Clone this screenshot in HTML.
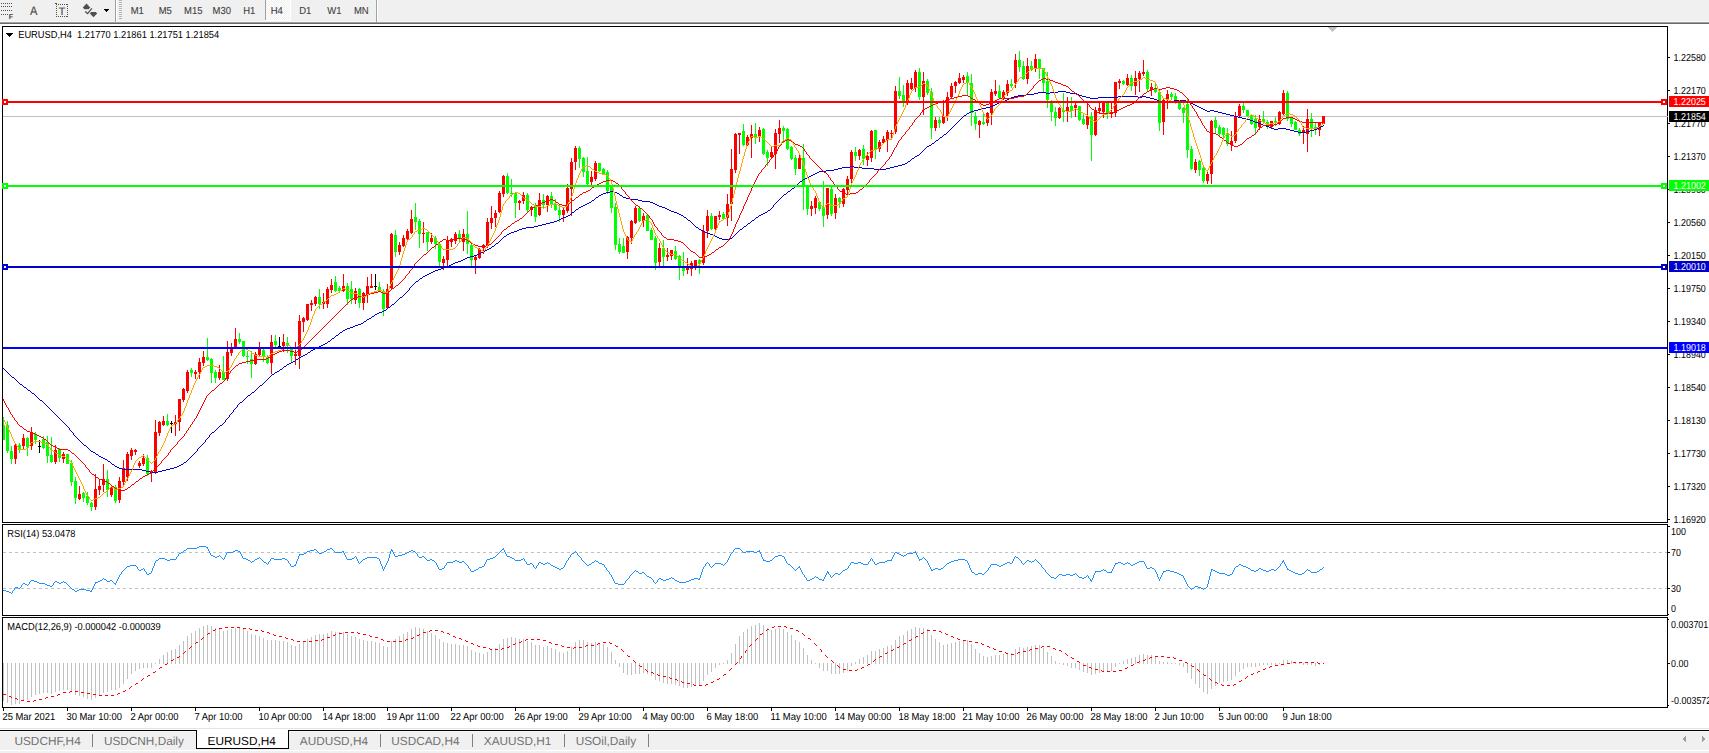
<!DOCTYPE html>
<html><head><meta charset="utf-8"><title>EURUSD,H4</title>
<style>html,body{margin:0;padding:0;background:#f0f0f0;overflow:hidden}svg{display:block}text{font-family:"Liberation Sans", sans-serif;}</style>
</head><body>
<svg width="1709" height="753" viewBox="0 0 1709 753" font-family='"Liberation Sans", sans-serif' shape-rendering="crispEdges" text-rendering="geometricPrecision">
<rect x="0" y="0" width="1709" height="753" fill="#f0f0f0"/>
<rect x="0" y="21" width="1709" height="1" fill="#f6f6f6"/>
<rect x="0" y="22" width="1709" height="1" fill="#a0a0a0"/>
<rect x="0" y="23" width="1709" height="1" fill="#696969"/>
<rect x="0" y="24" width="1709" height="705" fill="#ffffff"/>
<g id="main">
<rect x="3" y="116" width="1664" height="1" fill="#c0c0c0"/>
<rect x="3" y="417" width="1" height="23" fill="#00ff00"/>
<rect x="2" y="425" width="3" height="15" fill="#00ff00"/>
<rect x="7" y="421" width="1" height="32" fill="#00ff00"/>
<rect x="6" y="425" width="3" height="26" fill="#00ff00"/>
<rect x="11" y="446" width="1" height="18" fill="#00ff00"/>
<rect x="10" y="451" width="3" height="8" fill="#00ff00"/>
<rect x="15" y="444" width="1" height="20" fill="#ff0000"/>
<rect x="14" y="445" width="3" height="14" fill="#ff0000"/>
<rect x="19" y="443" width="1" height="10" fill="#00ff00"/>
<rect x="18" y="445" width="3" height="5" fill="#00ff00"/>
<rect x="23" y="434" width="1" height="16" fill="#ff0000"/>
<rect x="22" y="438" width="3" height="8" fill="#ff0000"/>
<rect x="27" y="437" width="1" height="19" fill="#00ff00"/>
<rect x="26" y="438" width="3" height="9" fill="#00ff00"/>
<rect x="31" y="427" width="1" height="23" fill="#ff0000"/>
<rect x="30" y="432" width="3" height="14" fill="#ff0000"/>
<rect x="35" y="432" width="1" height="12" fill="#00ff00"/>
<rect x="34" y="434" width="3" height="6" fill="#00ff00"/>
<rect x="39" y="440" width="1" height="13" fill="#000000"/>
<rect x="38" y="446" width="3" height="1" fill="#000000"/>
<rect x="43" y="436" width="1" height="13" fill="#00ff00"/>
<rect x="42" y="439" width="3" height="9" fill="#00ff00"/>
<rect x="47" y="436" width="1" height="27" fill="#00ff00"/>
<rect x="46" y="442" width="3" height="14" fill="#00ff00"/>
<rect x="51" y="437" width="1" height="26" fill="#00ff00"/>
<rect x="50" y="455" width="3" height="7" fill="#00ff00"/>
<rect x="55" y="445" width="1" height="19" fill="#ff0000"/>
<rect x="54" y="450" width="3" height="12" fill="#ff0000"/>
<rect x="59" y="448" width="1" height="14" fill="#00ff00"/>
<rect x="58" y="449" width="3" height="9" fill="#00ff00"/>
<rect x="63" y="452" width="1" height="11" fill="#ff0000"/>
<rect x="62" y="454" width="3" height="5" fill="#ff0000"/>
<rect x="67" y="454" width="1" height="10" fill="#00ff00"/>
<rect x="66" y="454" width="3" height="10" fill="#00ff00"/>
<rect x="71" y="460" width="1" height="26" fill="#00ff00"/>
<rect x="70" y="463" width="3" height="19" fill="#00ff00"/>
<rect x="75" y="477" width="1" height="27" fill="#00ff00"/>
<rect x="74" y="481" width="3" height="17" fill="#00ff00"/>
<rect x="79" y="486" width="1" height="14" fill="#ff0000"/>
<rect x="78" y="494" width="3" height="5" fill="#ff0000"/>
<rect x="83" y="492" width="1" height="10" fill="#00ff00"/>
<rect x="82" y="493" width="3" height="5" fill="#00ff00"/>
<rect x="87" y="492" width="1" height="13" fill="#00ff00"/>
<rect x="86" y="496" width="3" height="7" fill="#00ff00"/>
<rect x="91" y="502" width="1" height="9" fill="#00ff00"/>
<rect x="90" y="503" width="3" height="4" fill="#00ff00"/>
<rect x="95" y="474" width="1" height="36" fill="#ff0000"/>
<rect x="94" y="489" width="3" height="18" fill="#ff0000"/>
<rect x="99" y="479" width="1" height="16" fill="#ff0000"/>
<rect x="98" y="486" width="3" height="4" fill="#ff0000"/>
<rect x="103" y="464" width="1" height="28" fill="#ff0000"/>
<rect x="102" y="479" width="3" height="6" fill="#ff0000"/>
<rect x="107" y="470" width="1" height="27" fill="#00ff00"/>
<rect x="106" y="479" width="3" height="11" fill="#00ff00"/>
<rect x="111" y="487" width="1" height="10" fill="#ff0000"/>
<rect x="110" y="488" width="3" height="7" fill="#ff0000"/>
<rect x="115" y="485" width="1" height="18" fill="#00ff00"/>
<rect x="114" y="487" width="3" height="14" fill="#00ff00"/>
<rect x="119" y="477" width="1" height="26" fill="#ff0000"/>
<rect x="118" y="481" width="3" height="19" fill="#ff0000"/>
<rect x="123" y="460" width="1" height="27" fill="#ff0000"/>
<rect x="122" y="468" width="3" height="14" fill="#ff0000"/>
<rect x="127" y="452" width="1" height="29" fill="#ff0000"/>
<rect x="126" y="454" width="3" height="23" fill="#ff0000"/>
<rect x="131" y="448" width="1" height="12" fill="#ff0000"/>
<rect x="130" y="450" width="3" height="6" fill="#ff0000"/>
<rect x="135" y="449" width="1" height="6" fill="#ff0000"/>
<rect x="134" y="450" width="3" height="2" fill="#ff0000"/>
<rect x="139" y="461" width="1" height="7" fill="#ff0000"/>
<rect x="138" y="463" width="3" height="3" fill="#ff0000"/>
<rect x="143" y="454" width="1" height="12" fill="#ff0000"/>
<rect x="142" y="458" width="3" height="6" fill="#ff0000"/>
<rect x="147" y="455" width="1" height="21" fill="#00ff00"/>
<rect x="146" y="458" width="3" height="16" fill="#00ff00"/>
<rect x="151" y="470" width="1" height="12" fill="#ff0000"/>
<rect x="150" y="471" width="3" height="2" fill="#ff0000"/>
<rect x="155" y="420" width="1" height="54" fill="#ff0000"/>
<rect x="154" y="432" width="3" height="40" fill="#ff0000"/>
<rect x="159" y="421" width="1" height="15" fill="#ff0000"/>
<rect x="158" y="422" width="3" height="11" fill="#ff0000"/>
<rect x="163" y="416" width="1" height="10" fill="#ff0000"/>
<rect x="162" y="421" width="3" height="4" fill="#ff0000"/>
<rect x="167" y="414" width="1" height="12" fill="#00ff00"/>
<rect x="166" y="421" width="3" height="4" fill="#00ff00"/>
<rect x="171" y="421" width="1" height="12" fill="#000000"/>
<rect x="170" y="423" width="3" height="1" fill="#000000"/>
<rect x="175" y="415" width="1" height="21" fill="#ff0000"/>
<rect x="174" y="422" width="3" height="2" fill="#ff0000"/>
<rect x="179" y="399" width="1" height="32" fill="#ff0000"/>
<rect x="178" y="399" width="3" height="23" fill="#ff0000"/>
<rect x="183" y="388" width="1" height="14" fill="#ff0000"/>
<rect x="182" y="389" width="3" height="11" fill="#ff0000"/>
<rect x="187" y="370" width="1" height="23" fill="#ff0000"/>
<rect x="186" y="372" width="3" height="19" fill="#ff0000"/>
<rect x="191" y="368" width="1" height="9" fill="#00ff00"/>
<rect x="190" y="370" width="3" height="3" fill="#00ff00"/>
<rect x="195" y="370" width="1" height="9" fill="#ff0000"/>
<rect x="194" y="372" width="3" height="2" fill="#ff0000"/>
<rect x="199" y="358" width="1" height="21" fill="#ff0000"/>
<rect x="198" y="362" width="3" height="10" fill="#ff0000"/>
<rect x="203" y="351" width="1" height="15" fill="#ff0000"/>
<rect x="202" y="357" width="3" height="6" fill="#ff0000"/>
<rect x="207" y="338" width="1" height="23" fill="#00ff00"/>
<rect x="206" y="357" width="3" height="3" fill="#00ff00"/>
<rect x="211" y="358" width="1" height="25" fill="#00ff00"/>
<rect x="210" y="359" width="3" height="14" fill="#00ff00"/>
<rect x="215" y="370" width="1" height="13" fill="#00ff00"/>
<rect x="214" y="372" width="3" height="6" fill="#00ff00"/>
<rect x="219" y="365" width="1" height="15" fill="#ff0000"/>
<rect x="218" y="372" width="3" height="6" fill="#ff0000"/>
<rect x="223" y="356" width="1" height="24" fill="#00ff00"/>
<rect x="222" y="372" width="3" height="8" fill="#00ff00"/>
<rect x="227" y="341" width="1" height="40" fill="#ff0000"/>
<rect x="226" y="352" width="3" height="27" fill="#ff0000"/>
<rect x="231" y="343" width="1" height="13" fill="#ff0000"/>
<rect x="230" y="349" width="3" height="4" fill="#ff0000"/>
<rect x="235" y="328" width="1" height="20" fill="#ff0000"/>
<rect x="234" y="339" width="3" height="8" fill="#ff0000"/>
<rect x="239" y="333" width="1" height="11" fill="#00ff00"/>
<rect x="238" y="339" width="3" height="3" fill="#00ff00"/>
<rect x="243" y="341" width="1" height="16" fill="#00ff00"/>
<rect x="242" y="341" width="3" height="15" fill="#00ff00"/>
<rect x="247" y="351" width="1" height="13" fill="#00ff00"/>
<rect x="246" y="356" width="3" height="1" fill="#00ff00"/>
<rect x="251" y="351" width="1" height="27" fill="#00ff00"/>
<rect x="250" y="359" width="3" height="5" fill="#00ff00"/>
<rect x="255" y="352" width="1" height="13" fill="#ff0000"/>
<rect x="254" y="354" width="3" height="10" fill="#ff0000"/>
<rect x="259" y="342" width="1" height="14" fill="#ff0000"/>
<rect x="258" y="349" width="3" height="6" fill="#ff0000"/>
<rect x="263" y="349" width="1" height="13" fill="#00ff00"/>
<rect x="262" y="350" width="3" height="7" fill="#00ff00"/>
<rect x="267" y="355" width="1" height="9" fill="#00ff00"/>
<rect x="266" y="357" width="3" height="6" fill="#00ff00"/>
<rect x="271" y="335" width="1" height="39" fill="#ff0000"/>
<rect x="270" y="342" width="3" height="21" fill="#ff0000"/>
<rect x="275" y="335" width="1" height="12" fill="#00ff00"/>
<rect x="274" y="341" width="3" height="4" fill="#00ff00"/>
<rect x="279" y="337" width="1" height="9" fill="#000000"/>
<rect x="278" y="346" width="3" height="1" fill="#000000"/>
<rect x="283" y="334" width="1" height="18" fill="#ff0000"/>
<rect x="282" y="342" width="3" height="4" fill="#ff0000"/>
<rect x="287" y="337" width="1" height="16" fill="#00ff00"/>
<rect x="286" y="343" width="3" height="3" fill="#00ff00"/>
<rect x="291" y="349" width="1" height="13" fill="#00ff00"/>
<rect x="290" y="349" width="3" height="7" fill="#00ff00"/>
<rect x="295" y="342" width="1" height="23" fill="#ff0000"/>
<rect x="294" y="354" width="3" height="2" fill="#ff0000"/>
<rect x="299" y="315" width="1" height="54" fill="#ff0000"/>
<rect x="298" y="321" width="3" height="35" fill="#ff0000"/>
<rect x="303" y="317" width="1" height="15" fill="#ff0000"/>
<rect x="302" y="318" width="3" height="4" fill="#ff0000"/>
<rect x="307" y="304" width="1" height="17" fill="#ff0000"/>
<rect x="306" y="304" width="3" height="16" fill="#ff0000"/>
<rect x="311" y="300" width="1" height="11" fill="#ff0000"/>
<rect x="310" y="303" width="3" height="2" fill="#ff0000"/>
<rect x="315" y="296" width="1" height="10" fill="#ff0000"/>
<rect x="314" y="297" width="3" height="7" fill="#ff0000"/>
<rect x="319" y="289" width="1" height="20" fill="#00ff00"/>
<rect x="318" y="297" width="3" height="7" fill="#00ff00"/>
<rect x="323" y="293" width="1" height="16" fill="#ff0000"/>
<rect x="322" y="302" width="3" height="2" fill="#ff0000"/>
<rect x="327" y="287" width="1" height="21" fill="#ff0000"/>
<rect x="326" y="289" width="3" height="15" fill="#ff0000"/>
<rect x="331" y="279" width="1" height="14" fill="#ff0000"/>
<rect x="330" y="285" width="3" height="5" fill="#ff0000"/>
<rect x="335" y="276" width="1" height="16" fill="#00ff00"/>
<rect x="334" y="282" width="3" height="9" fill="#00ff00"/>
<rect x="339" y="286" width="1" height="7" fill="#00ff00"/>
<rect x="338" y="288" width="3" height="3" fill="#00ff00"/>
<rect x="343" y="274" width="1" height="18" fill="#ff0000"/>
<rect x="342" y="286" width="3" height="5" fill="#ff0000"/>
<rect x="347" y="283" width="1" height="22" fill="#00ff00"/>
<rect x="346" y="286" width="3" height="13" fill="#00ff00"/>
<rect x="351" y="281" width="1" height="23" fill="#00ff00"/>
<rect x="350" y="289" width="3" height="10" fill="#00ff00"/>
<rect x="355" y="288" width="1" height="16" fill="#ff0000"/>
<rect x="354" y="291" width="3" height="9" fill="#ff0000"/>
<rect x="359" y="288" width="1" height="20" fill="#00ff00"/>
<rect x="358" y="289" width="3" height="14" fill="#00ff00"/>
<rect x="363" y="292" width="1" height="18" fill="#ff0000"/>
<rect x="362" y="293" width="3" height="10" fill="#ff0000"/>
<rect x="367" y="277" width="1" height="26" fill="#ff0000"/>
<rect x="366" y="286" width="3" height="9" fill="#ff0000"/>
<rect x="371" y="274" width="1" height="14" fill="#ff0000"/>
<rect x="370" y="286" width="3" height="2" fill="#ff0000"/>
<rect x="375" y="274" width="1" height="16" fill="#000000"/>
<rect x="374" y="286" width="3" height="1" fill="#000000"/>
<rect x="379" y="282" width="1" height="10" fill="#00ff00"/>
<rect x="378" y="287" width="3" height="3" fill="#00ff00"/>
<rect x="383" y="289" width="1" height="27" fill="#00ff00"/>
<rect x="382" y="291" width="3" height="18" fill="#00ff00"/>
<rect x="387" y="284" width="1" height="25" fill="#ff0000"/>
<rect x="386" y="289" width="3" height="19" fill="#ff0000"/>
<rect x="391" y="233" width="1" height="56" fill="#ff0000"/>
<rect x="390" y="234" width="3" height="54" fill="#ff0000"/>
<rect x="395" y="230" width="1" height="27" fill="#00ff00"/>
<rect x="394" y="235" width="3" height="17" fill="#00ff00"/>
<rect x="399" y="242" width="1" height="13" fill="#ff0000"/>
<rect x="398" y="245" width="3" height="7" fill="#ff0000"/>
<rect x="403" y="235" width="1" height="12" fill="#ff0000"/>
<rect x="402" y="238" width="3" height="8" fill="#ff0000"/>
<rect x="407" y="229" width="1" height="11" fill="#ff0000"/>
<rect x="406" y="231" width="3" height="8" fill="#ff0000"/>
<rect x="411" y="210" width="1" height="24" fill="#ff0000"/>
<rect x="410" y="219" width="3" height="14" fill="#ff0000"/>
<rect x="415" y="203" width="1" height="27" fill="#00ff00"/>
<rect x="414" y="217" width="3" height="5" fill="#00ff00"/>
<rect x="419" y="219" width="1" height="29" fill="#00ff00"/>
<rect x="418" y="221" width="3" height="13" fill="#00ff00"/>
<rect x="423" y="222" width="1" height="21" fill="#ff0000"/>
<rect x="422" y="233" width="3" height="1" fill="#ff0000"/>
<rect x="427" y="232" width="1" height="19" fill="#00ff00"/>
<rect x="426" y="232" width="3" height="10" fill="#00ff00"/>
<rect x="431" y="233" width="1" height="11" fill="#ff0000"/>
<rect x="430" y="238" width="3" height="4" fill="#ff0000"/>
<rect x="435" y="236" width="1" height="13" fill="#00ff00"/>
<rect x="434" y="238" width="3" height="6" fill="#00ff00"/>
<rect x="439" y="242" width="1" height="25" fill="#00ff00"/>
<rect x="438" y="244" width="3" height="18" fill="#00ff00"/>
<rect x="443" y="256" width="1" height="14" fill="#ff0000"/>
<rect x="442" y="259" width="3" height="4" fill="#ff0000"/>
<rect x="447" y="236" width="1" height="30" fill="#ff0000"/>
<rect x="446" y="241" width="3" height="19" fill="#ff0000"/>
<rect x="451" y="238" width="1" height="9" fill="#ff0000"/>
<rect x="450" y="239" width="3" height="3" fill="#ff0000"/>
<rect x="455" y="232" width="1" height="12" fill="#ff0000"/>
<rect x="454" y="234" width="3" height="7" fill="#ff0000"/>
<rect x="459" y="230" width="1" height="12" fill="#00ff00"/>
<rect x="458" y="234" width="3" height="5" fill="#00ff00"/>
<rect x="463" y="229" width="1" height="22" fill="#ff0000"/>
<rect x="462" y="234" width="3" height="8" fill="#ff0000"/>
<rect x="467" y="211" width="1" height="43" fill="#00ff00"/>
<rect x="466" y="234" width="3" height="10" fill="#00ff00"/>
<rect x="471" y="244" width="1" height="22" fill="#00ff00"/>
<rect x="470" y="245" width="3" height="15" fill="#00ff00"/>
<rect x="475" y="255" width="1" height="19" fill="#ff0000"/>
<rect x="474" y="257" width="3" height="3" fill="#ff0000"/>
<rect x="479" y="248" width="1" height="11" fill="#ff0000"/>
<rect x="478" y="249" width="3" height="9" fill="#ff0000"/>
<rect x="483" y="244" width="1" height="10" fill="#ff0000"/>
<rect x="482" y="245" width="3" height="3" fill="#ff0000"/>
<rect x="487" y="218" width="1" height="30" fill="#ff0000"/>
<rect x="486" y="222" width="3" height="24" fill="#ff0000"/>
<rect x="491" y="206" width="1" height="23" fill="#ff0000"/>
<rect x="490" y="218" width="3" height="5" fill="#ff0000"/>
<rect x="495" y="210" width="1" height="17" fill="#ff0000"/>
<rect x="494" y="213" width="3" height="5" fill="#ff0000"/>
<rect x="499" y="191" width="1" height="22" fill="#ff0000"/>
<rect x="498" y="193" width="3" height="19" fill="#ff0000"/>
<rect x="503" y="175" width="1" height="22" fill="#ff0000"/>
<rect x="502" y="176" width="3" height="18" fill="#ff0000"/>
<rect x="507" y="173" width="1" height="21" fill="#00ff00"/>
<rect x="506" y="176" width="3" height="17" fill="#00ff00"/>
<rect x="511" y="179" width="1" height="18" fill="#00ff00"/>
<rect x="510" y="193" width="3" height="1" fill="#00ff00"/>
<rect x="515" y="192" width="1" height="26" fill="#00ff00"/>
<rect x="514" y="193" width="3" height="10" fill="#00ff00"/>
<rect x="519" y="200" width="1" height="10" fill="#ff0000"/>
<rect x="518" y="201" width="3" height="2" fill="#ff0000"/>
<rect x="523" y="192" width="1" height="12" fill="#ff0000"/>
<rect x="522" y="195" width="3" height="6" fill="#ff0000"/>
<rect x="527" y="193" width="1" height="19" fill="#00ff00"/>
<rect x="526" y="195" width="3" height="15" fill="#00ff00"/>
<rect x="531" y="206" width="1" height="10" fill="#ff0000"/>
<rect x="530" y="207" width="3" height="3" fill="#ff0000"/>
<rect x="535" y="203" width="1" height="19" fill="#00ff00"/>
<rect x="534" y="206" width="3" height="11" fill="#00ff00"/>
<rect x="539" y="193" width="1" height="23" fill="#ff0000"/>
<rect x="538" y="200" width="3" height="15" fill="#ff0000"/>
<rect x="543" y="194" width="1" height="14" fill="#00ff00"/>
<rect x="542" y="200" width="3" height="5" fill="#00ff00"/>
<rect x="547" y="195" width="1" height="17" fill="#ff0000"/>
<rect x="546" y="196" width="3" height="9" fill="#ff0000"/>
<rect x="551" y="192" width="1" height="16" fill="#00ff00"/>
<rect x="550" y="196" width="3" height="8" fill="#00ff00"/>
<rect x="555" y="199" width="1" height="12" fill="#00ff00"/>
<rect x="554" y="204" width="3" height="6" fill="#00ff00"/>
<rect x="559" y="205" width="1" height="17" fill="#00ff00"/>
<rect x="558" y="210" width="3" height="5" fill="#00ff00"/>
<rect x="563" y="208" width="1" height="14" fill="#ff0000"/>
<rect x="562" y="210" width="3" height="5" fill="#ff0000"/>
<rect x="567" y="184" width="1" height="29" fill="#ff0000"/>
<rect x="566" y="188" width="3" height="23" fill="#ff0000"/>
<rect x="571" y="158" width="1" height="58" fill="#ff0000"/>
<rect x="570" y="162" width="3" height="27" fill="#ff0000"/>
<rect x="575" y="146" width="1" height="24" fill="#ff0000"/>
<rect x="574" y="148" width="3" height="14" fill="#ff0000"/>
<rect x="579" y="146" width="1" height="22" fill="#00ff00"/>
<rect x="578" y="148" width="3" height="11" fill="#00ff00"/>
<rect x="583" y="157" width="1" height="20" fill="#00ff00"/>
<rect x="582" y="158" width="3" height="14" fill="#00ff00"/>
<rect x="587" y="157" width="1" height="29" fill="#00ff00"/>
<rect x="586" y="171" width="3" height="13" fill="#00ff00"/>
<rect x="591" y="171" width="1" height="14" fill="#ff0000"/>
<rect x="590" y="177" width="3" height="5" fill="#ff0000"/>
<rect x="595" y="161" width="1" height="20" fill="#ff0000"/>
<rect x="594" y="163" width="3" height="16" fill="#ff0000"/>
<rect x="599" y="163" width="1" height="9" fill="#00ff00"/>
<rect x="598" y="163" width="3" height="8" fill="#00ff00"/>
<rect x="603" y="168" width="1" height="6" fill="#00ff00"/>
<rect x="602" y="169" width="3" height="5" fill="#00ff00"/>
<rect x="607" y="170" width="1" height="24" fill="#00ff00"/>
<rect x="606" y="172" width="3" height="19" fill="#00ff00"/>
<rect x="611" y="186" width="1" height="27" fill="#00ff00"/>
<rect x="610" y="187" width="3" height="21" fill="#00ff00"/>
<rect x="615" y="203" width="1" height="47" fill="#00ff00"/>
<rect x="614" y="207" width="3" height="38" fill="#00ff00"/>
<rect x="619" y="238" width="1" height="16" fill="#00ff00"/>
<rect x="618" y="244" width="3" height="8" fill="#00ff00"/>
<rect x="623" y="238" width="1" height="15" fill="#00ff00"/>
<rect x="622" y="246" width="3" height="7" fill="#00ff00"/>
<rect x="627" y="236" width="1" height="23" fill="#ff0000"/>
<rect x="626" y="237" width="3" height="15" fill="#ff0000"/>
<rect x="631" y="220" width="1" height="24" fill="#ff0000"/>
<rect x="630" y="221" width="3" height="17" fill="#ff0000"/>
<rect x="635" y="206" width="1" height="18" fill="#ff0000"/>
<rect x="634" y="208" width="3" height="15" fill="#ff0000"/>
<rect x="639" y="206" width="1" height="16" fill="#00ff00"/>
<rect x="638" y="208" width="3" height="13" fill="#00ff00"/>
<rect x="643" y="213" width="1" height="14" fill="#ff0000"/>
<rect x="642" y="216" width="3" height="5" fill="#ff0000"/>
<rect x="647" y="214" width="1" height="17" fill="#00ff00"/>
<rect x="646" y="215" width="3" height="16" fill="#00ff00"/>
<rect x="651" y="228" width="1" height="12" fill="#00ff00"/>
<rect x="650" y="230" width="3" height="10" fill="#00ff00"/>
<rect x="655" y="236" width="1" height="34" fill="#00ff00"/>
<rect x="654" y="238" width="3" height="25" fill="#00ff00"/>
<rect x="659" y="243" width="1" height="23" fill="#ff0000"/>
<rect x="658" y="248" width="3" height="14" fill="#ff0000"/>
<rect x="663" y="240" width="1" height="26" fill="#00ff00"/>
<rect x="662" y="248" width="3" height="9" fill="#00ff00"/>
<rect x="667" y="248" width="1" height="13" fill="#ff0000"/>
<rect x="666" y="255" width="3" height="2" fill="#ff0000"/>
<rect x="671" y="250" width="1" height="10" fill="#ff0000"/>
<rect x="670" y="250" width="3" height="6" fill="#ff0000"/>
<rect x="675" y="246" width="1" height="14" fill="#00ff00"/>
<rect x="674" y="251" width="3" height="8" fill="#00ff00"/>
<rect x="679" y="255" width="1" height="25" fill="#00ff00"/>
<rect x="678" y="256" width="3" height="12" fill="#00ff00"/>
<rect x="683" y="252" width="1" height="24" fill="#00ff00"/>
<rect x="682" y="266" width="3" height="5" fill="#00ff00"/>
<rect x="687" y="258" width="1" height="16" fill="#ff0000"/>
<rect x="686" y="267" width="3" height="3" fill="#ff0000"/>
<rect x="691" y="261" width="1" height="15" fill="#ff0000"/>
<rect x="690" y="263" width="3" height="6" fill="#ff0000"/>
<rect x="695" y="260" width="1" height="10" fill="#ff0000"/>
<rect x="694" y="260" width="3" height="6" fill="#ff0000"/>
<rect x="699" y="259" width="1" height="15" fill="#00ff00"/>
<rect x="698" y="260" width="3" height="4" fill="#00ff00"/>
<rect x="703" y="225" width="1" height="40" fill="#ff0000"/>
<rect x="702" y="231" width="3" height="32" fill="#ff0000"/>
<rect x="707" y="210" width="1" height="28" fill="#ff0000"/>
<rect x="706" y="216" width="3" height="15" fill="#ff0000"/>
<rect x="711" y="213" width="1" height="17" fill="#00ff00"/>
<rect x="710" y="216" width="3" height="13" fill="#00ff00"/>
<rect x="715" y="216" width="1" height="14" fill="#ff0000"/>
<rect x="714" y="216" width="3" height="13" fill="#ff0000"/>
<rect x="719" y="211" width="1" height="9" fill="#ff0000"/>
<rect x="718" y="215" width="3" height="2" fill="#ff0000"/>
<rect x="723" y="212" width="1" height="7" fill="#00ff00"/>
<rect x="722" y="214" width="3" height="5" fill="#00ff00"/>
<rect x="727" y="194" width="1" height="32" fill="#ff0000"/>
<rect x="726" y="204" width="3" height="14" fill="#ff0000"/>
<rect x="731" y="149" width="1" height="72" fill="#ff0000"/>
<rect x="730" y="169" width="3" height="35" fill="#ff0000"/>
<rect x="735" y="133" width="1" height="40" fill="#ff0000"/>
<rect x="734" y="134" width="3" height="36" fill="#ff0000"/>
<rect x="739" y="133" width="1" height="21" fill="#ff0000"/>
<rect x="738" y="133" width="3" height="2" fill="#ff0000"/>
<rect x="743" y="124" width="1" height="22" fill="#00ff00"/>
<rect x="742" y="131" width="3" height="14" fill="#00ff00"/>
<rect x="747" y="135" width="1" height="11" fill="#ff0000"/>
<rect x="746" y="137" width="3" height="8" fill="#ff0000"/>
<rect x="751" y="125" width="1" height="33" fill="#ff0000"/>
<rect x="750" y="134" width="3" height="4" fill="#ff0000"/>
<rect x="755" y="123" width="1" height="21" fill="#00ff00"/>
<rect x="754" y="134" width="3" height="3" fill="#00ff00"/>
<rect x="759" y="127" width="1" height="15" fill="#ff0000"/>
<rect x="758" y="130" width="3" height="7" fill="#ff0000"/>
<rect x="763" y="128" width="1" height="27" fill="#00ff00"/>
<rect x="762" y="129" width="3" height="25" fill="#00ff00"/>
<rect x="767" y="150" width="1" height="16" fill="#00ff00"/>
<rect x="766" y="152" width="3" height="6" fill="#00ff00"/>
<rect x="771" y="146" width="1" height="12" fill="#ff0000"/>
<rect x="770" y="152" width="3" height="5" fill="#ff0000"/>
<rect x="775" y="129" width="1" height="40" fill="#ff0000"/>
<rect x="774" y="133" width="3" height="21" fill="#ff0000"/>
<rect x="779" y="120" width="1" height="23" fill="#ff0000"/>
<rect x="778" y="128" width="3" height="6" fill="#ff0000"/>
<rect x="783" y="126" width="1" height="17" fill="#00ff00"/>
<rect x="782" y="128" width="3" height="3" fill="#00ff00"/>
<rect x="787" y="128" width="1" height="22" fill="#00ff00"/>
<rect x="786" y="129" width="3" height="20" fill="#00ff00"/>
<rect x="791" y="146" width="1" height="14" fill="#00ff00"/>
<rect x="790" y="147" width="3" height="12" fill="#00ff00"/>
<rect x="795" y="155" width="1" height="20" fill="#00ff00"/>
<rect x="794" y="158" width="3" height="11" fill="#00ff00"/>
<rect x="799" y="154" width="1" height="15" fill="#ff0000"/>
<rect x="798" y="158" width="3" height="11" fill="#ff0000"/>
<rect x="803" y="144" width="1" height="66" fill="#00ff00"/>
<rect x="802" y="158" width="3" height="28" fill="#00ff00"/>
<rect x="807" y="187" width="1" height="28" fill="#00ff00"/>
<rect x="806" y="187" width="3" height="22" fill="#00ff00"/>
<rect x="811" y="201" width="1" height="15" fill="#ff0000"/>
<rect x="810" y="206" width="3" height="3" fill="#ff0000"/>
<rect x="815" y="196" width="1" height="18" fill="#ff0000"/>
<rect x="814" y="198" width="3" height="10" fill="#ff0000"/>
<rect x="819" y="201" width="1" height="10" fill="#00ff00"/>
<rect x="818" y="202" width="3" height="7" fill="#00ff00"/>
<rect x="823" y="181" width="1" height="46" fill="#00ff00"/>
<rect x="822" y="208" width="3" height="8" fill="#00ff00"/>
<rect x="827" y="188" width="1" height="31" fill="#ff0000"/>
<rect x="826" y="188" width="3" height="27" fill="#ff0000"/>
<rect x="831" y="187" width="1" height="29" fill="#00ff00"/>
<rect x="830" y="189" width="3" height="25" fill="#00ff00"/>
<rect x="835" y="194" width="1" height="25" fill="#ff0000"/>
<rect x="834" y="198" width="3" height="15" fill="#ff0000"/>
<rect x="839" y="197" width="1" height="11" fill="#00ff00"/>
<rect x="838" y="198" width="3" height="4" fill="#00ff00"/>
<rect x="843" y="188" width="1" height="19" fill="#ff0000"/>
<rect x="842" y="189" width="3" height="15" fill="#ff0000"/>
<rect x="847" y="176" width="1" height="20" fill="#ff0000"/>
<rect x="846" y="179" width="3" height="11" fill="#ff0000"/>
<rect x="851" y="150" width="1" height="34" fill="#ff0000"/>
<rect x="850" y="152" width="3" height="27" fill="#ff0000"/>
<rect x="855" y="147" width="1" height="14" fill="#00ff00"/>
<rect x="854" y="152" width="3" height="4" fill="#00ff00"/>
<rect x="859" y="149" width="1" height="11" fill="#ff0000"/>
<rect x="858" y="150" width="3" height="6" fill="#ff0000"/>
<rect x="863" y="145" width="1" height="20" fill="#00ff00"/>
<rect x="862" y="149" width="3" height="10" fill="#00ff00"/>
<rect x="867" y="152" width="1" height="14" fill="#ff0000"/>
<rect x="866" y="156" width="3" height="4" fill="#ff0000"/>
<rect x="871" y="130" width="1" height="32" fill="#ff0000"/>
<rect x="870" y="131" width="3" height="27" fill="#ff0000"/>
<rect x="875" y="130" width="1" height="29" fill="#00ff00"/>
<rect x="874" y="130" width="3" height="20" fill="#00ff00"/>
<rect x="879" y="140" width="1" height="12" fill="#ff0000"/>
<rect x="878" y="142" width="3" height="7" fill="#ff0000"/>
<rect x="883" y="136" width="1" height="8" fill="#ff0000"/>
<rect x="882" y="139" width="3" height="4" fill="#ff0000"/>
<rect x="887" y="130" width="1" height="22" fill="#ff0000"/>
<rect x="886" y="132" width="3" height="8" fill="#ff0000"/>
<rect x="891" y="130" width="1" height="8" fill="#ff0000"/>
<rect x="890" y="133" width="3" height="1" fill="#ff0000"/>
<rect x="895" y="86" width="1" height="48" fill="#ff0000"/>
<rect x="894" y="91" width="3" height="41" fill="#ff0000"/>
<rect x="899" y="77" width="1" height="22" fill="#00ff00"/>
<rect x="898" y="91" width="3" height="5" fill="#00ff00"/>
<rect x="903" y="85" width="1" height="22" fill="#00ff00"/>
<rect x="902" y="95" width="3" height="6" fill="#00ff00"/>
<rect x="907" y="80" width="1" height="25" fill="#ff0000"/>
<rect x="906" y="83" width="3" height="19" fill="#ff0000"/>
<rect x="911" y="78" width="1" height="12" fill="#ff0000"/>
<rect x="910" y="83" width="3" height="6" fill="#ff0000"/>
<rect x="915" y="70" width="1" height="22" fill="#ff0000"/>
<rect x="914" y="72" width="3" height="16" fill="#ff0000"/>
<rect x="919" y="68" width="1" height="32" fill="#00ff00"/>
<rect x="918" y="72" width="3" height="25" fill="#00ff00"/>
<rect x="923" y="72" width="1" height="43" fill="#ff0000"/>
<rect x="922" y="81" width="3" height="16" fill="#ff0000"/>
<rect x="927" y="79" width="1" height="16" fill="#00ff00"/>
<rect x="926" y="81" width="3" height="12" fill="#00ff00"/>
<rect x="931" y="88" width="1" height="51" fill="#00ff00"/>
<rect x="930" y="92" width="3" height="36" fill="#00ff00"/>
<rect x="935" y="117" width="1" height="14" fill="#ff0000"/>
<rect x="934" y="120" width="3" height="8" fill="#ff0000"/>
<rect x="939" y="117" width="1" height="11" fill="#00ff00"/>
<rect x="938" y="120" width="3" height="3" fill="#00ff00"/>
<rect x="943" y="100" width="1" height="24" fill="#ff0000"/>
<rect x="942" y="116" width="3" height="7" fill="#ff0000"/>
<rect x="947" y="92" width="1" height="29" fill="#ff0000"/>
<rect x="946" y="97" width="3" height="19" fill="#ff0000"/>
<rect x="951" y="83" width="1" height="15" fill="#ff0000"/>
<rect x="950" y="86" width="3" height="11" fill="#ff0000"/>
<rect x="955" y="81" width="1" height="12" fill="#ff0000"/>
<rect x="954" y="82" width="3" height="4" fill="#ff0000"/>
<rect x="959" y="73" width="1" height="11" fill="#ff0000"/>
<rect x="958" y="78" width="3" height="5" fill="#ff0000"/>
<rect x="963" y="75" width="1" height="8" fill="#ff0000"/>
<rect x="962" y="77" width="3" height="3" fill="#ff0000"/>
<rect x="967" y="72" width="1" height="23" fill="#00ff00"/>
<rect x="966" y="76" width="3" height="6" fill="#00ff00"/>
<rect x="971" y="74" width="1" height="52" fill="#00ff00"/>
<rect x="970" y="83" width="3" height="30" fill="#00ff00"/>
<rect x="975" y="112" width="1" height="18" fill="#00ff00"/>
<rect x="974" y="116" width="3" height="8" fill="#00ff00"/>
<rect x="979" y="120" width="1" height="18" fill="#ff0000"/>
<rect x="978" y="121" width="3" height="4" fill="#ff0000"/>
<rect x="983" y="114" width="1" height="11" fill="#00ff00"/>
<rect x="982" y="122" width="3" height="2" fill="#00ff00"/>
<rect x="987" y="112" width="1" height="14" fill="#ff0000"/>
<rect x="986" y="113" width="3" height="10" fill="#ff0000"/>
<rect x="991" y="89" width="1" height="36" fill="#ff0000"/>
<rect x="990" y="92" width="3" height="21" fill="#ff0000"/>
<rect x="995" y="80" width="1" height="16" fill="#ff0000"/>
<rect x="994" y="91" width="3" height="3" fill="#ff0000"/>
<rect x="999" y="85" width="1" height="14" fill="#00ff00"/>
<rect x="998" y="91" width="3" height="7" fill="#00ff00"/>
<rect x="1003" y="90" width="1" height="10" fill="#ff0000"/>
<rect x="1002" y="92" width="3" height="6" fill="#ff0000"/>
<rect x="1007" y="80" width="1" height="16" fill="#ff0000"/>
<rect x="1006" y="84" width="3" height="9" fill="#ff0000"/>
<rect x="1011" y="79" width="1" height="9" fill="#00ff00"/>
<rect x="1010" y="84" width="3" height="2" fill="#00ff00"/>
<rect x="1015" y="54" width="1" height="34" fill="#ff0000"/>
<rect x="1014" y="60" width="3" height="23" fill="#ff0000"/>
<rect x="1019" y="51" width="1" height="21" fill="#00ff00"/>
<rect x="1018" y="60" width="3" height="7" fill="#00ff00"/>
<rect x="1023" y="61" width="1" height="19" fill="#00ff00"/>
<rect x="1022" y="66" width="3" height="13" fill="#00ff00"/>
<rect x="1027" y="58" width="1" height="26" fill="#ff0000"/>
<rect x="1026" y="66" width="3" height="13" fill="#ff0000"/>
<rect x="1031" y="61" width="1" height="10" fill="#00ff00"/>
<rect x="1030" y="66" width="3" height="4" fill="#00ff00"/>
<rect x="1035" y="54" width="1" height="18" fill="#ff0000"/>
<rect x="1034" y="59" width="3" height="9" fill="#ff0000"/>
<rect x="1039" y="59" width="1" height="20" fill="#00ff00"/>
<rect x="1038" y="59" width="3" height="9" fill="#00ff00"/>
<rect x="1043" y="68" width="1" height="24" fill="#00ff00"/>
<rect x="1042" y="68" width="3" height="15" fill="#00ff00"/>
<rect x="1047" y="72" width="1" height="36" fill="#00ff00"/>
<rect x="1046" y="81" width="3" height="19" fill="#00ff00"/>
<rect x="1051" y="100" width="1" height="21" fill="#00ff00"/>
<rect x="1050" y="103" width="3" height="9" fill="#00ff00"/>
<rect x="1055" y="107" width="1" height="19" fill="#00ff00"/>
<rect x="1054" y="112" width="3" height="6" fill="#00ff00"/>
<rect x="1059" y="107" width="1" height="12" fill="#ff0000"/>
<rect x="1058" y="108" width="3" height="10" fill="#ff0000"/>
<rect x="1063" y="93" width="1" height="29" fill="#00ff00"/>
<rect x="1062" y="110" width="3" height="2" fill="#00ff00"/>
<rect x="1067" y="97" width="1" height="25" fill="#ff0000"/>
<rect x="1066" y="107" width="3" height="4" fill="#ff0000"/>
<rect x="1071" y="97" width="1" height="21" fill="#00ff00"/>
<rect x="1070" y="106" width="3" height="5" fill="#00ff00"/>
<rect x="1075" y="103" width="1" height="14" fill="#ff0000"/>
<rect x="1074" y="105" width="3" height="3" fill="#ff0000"/>
<rect x="1079" y="106" width="1" height="15" fill="#00ff00"/>
<rect x="1078" y="106" width="3" height="14" fill="#00ff00"/>
<rect x="1083" y="113" width="1" height="12" fill="#00ff00"/>
<rect x="1082" y="119" width="3" height="5" fill="#00ff00"/>
<rect x="1087" y="104" width="1" height="25" fill="#ff0000"/>
<rect x="1086" y="116" width="3" height="9" fill="#ff0000"/>
<rect x="1091" y="112" width="1" height="49" fill="#00ff00"/>
<rect x="1090" y="116" width="3" height="19" fill="#00ff00"/>
<rect x="1095" y="107" width="1" height="29" fill="#ff0000"/>
<rect x="1094" y="110" width="3" height="25" fill="#ff0000"/>
<rect x="1099" y="103" width="1" height="10" fill="#ff0000"/>
<rect x="1098" y="108" width="3" height="3" fill="#ff0000"/>
<rect x="1103" y="103" width="1" height="15" fill="#ff0000"/>
<rect x="1102" y="103" width="3" height="9" fill="#ff0000"/>
<rect x="1107" y="103" width="1" height="16" fill="#00ff00"/>
<rect x="1106" y="103" width="3" height="10" fill="#00ff00"/>
<rect x="1111" y="103" width="1" height="15" fill="#ff0000"/>
<rect x="1110" y="112" width="3" height="1" fill="#ff0000"/>
<rect x="1115" y="82" width="1" height="35" fill="#ff0000"/>
<rect x="1114" y="82" width="3" height="31" fill="#ff0000"/>
<rect x="1119" y="79" width="1" height="10" fill="#ff0000"/>
<rect x="1118" y="81" width="3" height="2" fill="#ff0000"/>
<rect x="1123" y="80" width="1" height="5" fill="#00ff00"/>
<rect x="1122" y="81" width="3" height="3" fill="#00ff00"/>
<rect x="1127" y="74" width="1" height="12" fill="#ff0000"/>
<rect x="1126" y="78" width="3" height="7" fill="#ff0000"/>
<rect x="1131" y="75" width="1" height="16" fill="#00ff00"/>
<rect x="1130" y="78" width="3" height="8" fill="#00ff00"/>
<rect x="1135" y="71" width="1" height="24" fill="#ff0000"/>
<rect x="1134" y="78" width="3" height="8" fill="#ff0000"/>
<rect x="1139" y="71" width="1" height="21" fill="#ff0000"/>
<rect x="1138" y="73" width="3" height="6" fill="#ff0000"/>
<rect x="1143" y="60" width="1" height="16" fill="#ff0000"/>
<rect x="1142" y="72" width="3" height="2" fill="#ff0000"/>
<rect x="1147" y="70" width="1" height="21" fill="#00ff00"/>
<rect x="1146" y="72" width="3" height="17" fill="#00ff00"/>
<rect x="1151" y="83" width="1" height="13" fill="#ff0000"/>
<rect x="1150" y="87" width="3" height="3" fill="#ff0000"/>
<rect x="1155" y="84" width="1" height="9" fill="#00ff00"/>
<rect x="1154" y="88" width="3" height="4" fill="#00ff00"/>
<rect x="1159" y="89" width="1" height="42" fill="#00ff00"/>
<rect x="1158" y="92" width="3" height="31" fill="#00ff00"/>
<rect x="1163" y="99" width="1" height="36" fill="#ff0000"/>
<rect x="1162" y="100" width="3" height="22" fill="#ff0000"/>
<rect x="1167" y="90" width="1" height="19" fill="#ff0000"/>
<rect x="1166" y="94" width="3" height="6" fill="#ff0000"/>
<rect x="1171" y="92" width="1" height="8" fill="#00ff00"/>
<rect x="1170" y="94" width="3" height="3" fill="#00ff00"/>
<rect x="1175" y="93" width="1" height="11" fill="#00ff00"/>
<rect x="1174" y="96" width="3" height="4" fill="#00ff00"/>
<rect x="1179" y="100" width="1" height="10" fill="#00ff00"/>
<rect x="1178" y="103" width="3" height="6" fill="#00ff00"/>
<rect x="1183" y="107" width="1" height="16" fill="#00ff00"/>
<rect x="1182" y="108" width="3" height="5" fill="#00ff00"/>
<rect x="1187" y="99" width="1" height="59" fill="#00ff00"/>
<rect x="1186" y="104" width="3" height="46" fill="#00ff00"/>
<rect x="1191" y="146" width="1" height="24" fill="#00ff00"/>
<rect x="1190" y="149" width="3" height="20" fill="#00ff00"/>
<rect x="1195" y="159" width="1" height="14" fill="#ff0000"/>
<rect x="1194" y="162" width="3" height="8" fill="#ff0000"/>
<rect x="1199" y="160" width="1" height="16" fill="#00ff00"/>
<rect x="1198" y="161" width="3" height="9" fill="#00ff00"/>
<rect x="1203" y="166" width="1" height="17" fill="#00ff00"/>
<rect x="1202" y="168" width="3" height="13" fill="#00ff00"/>
<rect x="1207" y="170" width="1" height="14" fill="#ff0000"/>
<rect x="1206" y="174" width="3" height="7" fill="#ff0000"/>
<rect x="1211" y="120" width="1" height="64" fill="#ff0000"/>
<rect x="1210" y="121" width="3" height="53" fill="#ff0000"/>
<rect x="1215" y="117" width="1" height="17" fill="#00ff00"/>
<rect x="1214" y="120" width="3" height="8" fill="#00ff00"/>
<rect x="1219" y="125" width="1" height="12" fill="#00ff00"/>
<rect x="1218" y="127" width="3" height="7" fill="#00ff00"/>
<rect x="1223" y="127" width="1" height="11" fill="#00ff00"/>
<rect x="1222" y="128" width="3" height="7" fill="#00ff00"/>
<rect x="1227" y="128" width="1" height="18" fill="#00ff00"/>
<rect x="1226" y="134" width="3" height="10" fill="#00ff00"/>
<rect x="1231" y="131" width="1" height="20" fill="#ff0000"/>
<rect x="1230" y="141" width="3" height="4" fill="#ff0000"/>
<rect x="1235" y="112" width="1" height="31" fill="#ff0000"/>
<rect x="1234" y="116" width="3" height="25" fill="#ff0000"/>
<rect x="1239" y="104" width="1" height="13" fill="#ff0000"/>
<rect x="1238" y="106" width="3" height="10" fill="#ff0000"/>
<rect x="1243" y="103" width="1" height="10" fill="#00ff00"/>
<rect x="1242" y="106" width="3" height="4" fill="#00ff00"/>
<rect x="1247" y="110" width="1" height="7" fill="#00ff00"/>
<rect x="1246" y="110" width="3" height="6" fill="#00ff00"/>
<rect x="1251" y="114" width="1" height="11" fill="#00ff00"/>
<rect x="1250" y="115" width="3" height="9" fill="#00ff00"/>
<rect x="1255" y="115" width="1" height="20" fill="#00ff00"/>
<rect x="1254" y="119" width="3" height="9" fill="#00ff00"/>
<rect x="1259" y="115" width="1" height="15" fill="#ff0000"/>
<rect x="1258" y="119" width="3" height="8" fill="#ff0000"/>
<rect x="1263" y="111" width="1" height="13" fill="#00ff00"/>
<rect x="1262" y="119" width="3" height="3" fill="#00ff00"/>
<rect x="1267" y="120" width="1" height="9" fill="#00ff00"/>
<rect x="1266" y="122" width="3" height="4" fill="#00ff00"/>
<rect x="1271" y="121" width="1" height="7" fill="#ff0000"/>
<rect x="1270" y="121" width="3" height="6" fill="#ff0000"/>
<rect x="1275" y="117" width="1" height="9" fill="#00ff00"/>
<rect x="1274" y="121" width="3" height="1" fill="#00ff00"/>
<rect x="1279" y="111" width="1" height="14" fill="#ff0000"/>
<rect x="1278" y="112" width="3" height="12" fill="#ff0000"/>
<rect x="1283" y="90" width="1" height="25" fill="#ff0000"/>
<rect x="1282" y="93" width="3" height="21" fill="#ff0000"/>
<rect x="1287" y="91" width="1" height="30" fill="#00ff00"/>
<rect x="1286" y="93" width="3" height="26" fill="#00ff00"/>
<rect x="1291" y="117" width="1" height="10" fill="#00ff00"/>
<rect x="1290" y="118" width="3" height="6" fill="#00ff00"/>
<rect x="1295" y="121" width="1" height="9" fill="#00ff00"/>
<rect x="1294" y="122" width="3" height="8" fill="#00ff00"/>
<rect x="1299" y="128" width="1" height="8" fill="#00ff00"/>
<rect x="1298" y="130" width="3" height="4" fill="#00ff00"/>
<rect x="1303" y="126" width="1" height="18" fill="#ff0000"/>
<rect x="1302" y="130" width="3" height="3" fill="#ff0000"/>
<rect x="1307" y="109" width="1" height="43" fill="#ff0000"/>
<rect x="1306" y="119" width="3" height="15" fill="#ff0000"/>
<rect x="1311" y="113" width="1" height="24" fill="#00ff00"/>
<rect x="1310" y="119" width="3" height="9" fill="#00ff00"/>
<rect x="1315" y="122" width="1" height="13" fill="#00ff00"/>
<rect x="1314" y="127" width="3" height="3" fill="#00ff00"/>
<rect x="1319" y="122" width="1" height="14" fill="#ff0000"/>
<rect x="1318" y="122" width="3" height="8" fill="#ff0000"/>
<rect x="1323" y="116" width="1" height="8" fill="#ff0000"/>
<rect x="1322" y="116" width="3" height="8" fill="#ff0000"/>
</g>
<path d="M1058 91.5h8M1038 92.5h8M1050 92.5h8M1066 92.5h4M1034 93.5h4M1046 93.5h4M1070 93.5h7M1026 94.5h8M1077 94.5h2M1018 95.5h8M1079 95.5h3M1014 96.5h4M1082 96.5h4M1118 96.5h20M1142 96.5h4M1011 97.5h3M1086 97.5h4M1098 97.5h20M1138 97.5h4M1146 97.5h4M1009 98.5h2M1090 98.5h8M1150 98.5h4M1007 99.5h2M1154 99.5h3M1005 100.5h2M1157 100.5h2M1174 100.5h12M1002 101.5h3M1159 101.5h15M1186 101.5h3M999 102.5h3M1189 102.5h2M997 103.5h2M1191 103.5h2M995 104.5h2M1193 104.5h2M993 105.5h2M1195 105.5h2M990 106.5h3M1197 106.5h2M986 107.5h4M1199 107.5h2M982 108.5h4M1201 108.5h2M978 109.5h4M1203 109.5h2M974 110.5h4M1205 110.5h2M1210 110.5h4M971 111.5h3M1207 111.5h3M1214 111.5h4M969 112.5h2M1218 112.5h4M967 113.5h2M1222 113.5h4M966 114.5h1M1226 114.5h4M964 115.5h2M1230 115.5h4M963 116.5h1M1234 116.5h4M962 117.5h1M1238 117.5h4M961 118.5h1M1242 118.5h4M960 119.5h1M1246 119.5h4M959 120.5h1M1250 120.5h3M958 121.5h1M1253 121.5h2M957 122.5h1M1255 122.5h3M956 123.5h1M1258 123.5h3M955 124.5h1M1261 124.5h2M954 125.5h1M1263 125.5h3M1323 125.5h1M953 126.5h1M1266 126.5h3M1321 126.5h2M952 127.5h1M1269 127.5h2M1319 127.5h2M951 128.5h1M1271 128.5h3M1278 128.5h8M1317 128.5h2M950 129.5h1M1274 129.5h4M1286 129.5h4M1314 129.5h3M949 130.5h1M1290 130.5h4M1310 130.5h4M948 131.5h1M1294 131.5h4M1306 131.5h4M947 132.5h1M1298 132.5h8M946 133.5h1M944 134.5h2M943 135.5h1M942 136.5h1M940 137.5h2M939 138.5h1M938 139.5h1M936 140.5h2M935 141.5h1M934 142.5h1M932 143.5h2M931 144.5h1M929 145.5h2M927 146.5h2M926 147.5h1M925 148.5h1M924 149.5h1M923 150.5h1M922 151.5h1M921 152.5h1M920 153.5h1M919 154.5h1M917 155.5h2M915 156.5h2M914 157.5h1M912 158.5h2M911 159.5h1M910 160.5h1M908 161.5h2M907 162.5h1M905 163.5h2M902 164.5h3M898 165.5h4M850 166.5h4M894 166.5h4M842 167.5h8M854 167.5h8M890 167.5h4M838 168.5h4M862 168.5h12M886 168.5h4M834 169.5h4M874 169.5h12M826 170.5h8M819 171.5h7M817 172.5h2M815 173.5h2M813 174.5h2M811 175.5h2M809 176.5h2M807 177.5h2M805 178.5h2M803 179.5h2M802 180.5h1M800 181.5h2M799 182.5h1M798 183.5h1M797 184.5h1M796 185.5h1M795 186.5h1M794 187.5h1M792 188.5h2M791 189.5h1M790 190.5h1M610 191.5h4M788 191.5h2M606 192.5h4M614 192.5h3M787 192.5h1M603 193.5h3M617 193.5h2M786 193.5h1M601 194.5h2M619 194.5h1M784 194.5h2M599 195.5h2M620 195.5h2M783 195.5h1M598 196.5h1M622 196.5h1M782 196.5h1M596 197.5h2M623 197.5h3M781 197.5h1M595 198.5h1M626 198.5h4M780 198.5h1M594 199.5h1M630 199.5h8M779 199.5h1M592 200.5h2M638 200.5h4M778 200.5h1M591 201.5h1M642 201.5h8M777 201.5h1M589 202.5h2M650 202.5h3M776 202.5h1M587 203.5h2M653 203.5h2M775 203.5h1M585 204.5h2M655 204.5h2M774 204.5h1M583 205.5h2M657 205.5h2M773.5 205v2M581 206.5h2M659 206.5h3M579 207.5h2M662 207.5h3M772 207.5h1M578 208.5h1M665 208.5h2M771 208.5h1M576 209.5h2M667 209.5h2M770 209.5h1M575 210.5h1M669 210.5h2M768 210.5h2M574 211.5h1M671 211.5h3M767 211.5h1M572 212.5h2M674 212.5h3M765 212.5h2M571 213.5h1M677 213.5h2M763 213.5h2M570 214.5h1M679 214.5h2M761 214.5h2M568 215.5h2M681 215.5h2M759 215.5h2M566 216.5h2M683 216.5h1M758 216.5h1M563 217.5h3M684 217.5h2M756 217.5h2M561 218.5h2M686 218.5h1M755 218.5h1M559 219.5h2M687 219.5h1M754 219.5h1M557 220.5h2M688 220.5h2M752 220.5h2M554 221.5h3M690 221.5h1M751 221.5h1M550 222.5h4M691 222.5h1M750 222.5h1M546 223.5h4M692 223.5h1M748 223.5h2M542 224.5h4M693 224.5h1M747 224.5h1M538 225.5h4M694 225.5h1M746 225.5h1M534 226.5h4M695 226.5h1M744 226.5h2M526 227.5h8M696 227.5h2M743 227.5h1M522 228.5h4M698 228.5h1M742 228.5h1M519 229.5h3M699 229.5h2M740 229.5h2M517 230.5h2M701 230.5h2M739 230.5h1M514 231.5h3M703 231.5h2M738 231.5h1M511 232.5h3M705 232.5h2M737 232.5h1M509 233.5h2M707 233.5h3M736 233.5h1M507 234.5h2M710 234.5h3M735 234.5h1M506 235.5h1M713 235.5h2M734 235.5h1M504 236.5h2M715 236.5h2M733 236.5h1M503 237.5h1M717 237.5h2M732 237.5h1M502 238.5h1M719 238.5h3M730 238.5h2M501 239.5h1M722 239.5h8M500 240.5h1M499 241.5h1M498 242.5h1M496 243.5h2M495 244.5h1M494 245.5h1M492 246.5h2M491 247.5h1M489 248.5h2M487 249.5h2M485 250.5h2M483 251.5h2M481 252.5h2M479 253.5h2M477 254.5h2M474 255.5h3M470 256.5h4M467 257.5h3M465 258.5h2M463 259.5h2M461 260.5h2M458 261.5h3M455 262.5h3M453 263.5h2M451 264.5h2M449 265.5h2M446 266.5h3M443 267.5h3M441 268.5h2M438 269.5h3M435 270.5h3M433 271.5h2M431 272.5h2M429 273.5h2M427 274.5h2M425 275.5h2M423 276.5h2M422 277.5h1M420 278.5h2M419 279.5h1M418 280.5h1M416 281.5h2M415 282.5h1M414 283.5h1M413 284.5h1M412 285.5h1M411 286.5h1M410 287.5h1M409.5 288v2M408 290.5h1M407 291.5h1M406 292.5h1M405 293.5h1M404 294.5h1M403 295.5h1M402 296.5h1M400 297.5h2M399 298.5h1M398 299.5h1M397 300.5h1M396 301.5h1M395 302.5h1M394 303.5h1M392 304.5h2M391 305.5h1M390 306.5h1M388 307.5h2M387 308.5h1M386 309.5h1M384 310.5h2M382 311.5h2M379 312.5h3M377 313.5h2M375 314.5h2M374 315.5h1M372 316.5h2M371 317.5h1M369 318.5h2M367 319.5h2M366 320.5h1M364 321.5h2M363 322.5h1M361 323.5h2M358 324.5h3M355 325.5h3M353 326.5h2M350 327.5h3M347 328.5h3M345 329.5h2M343 330.5h2M342 331.5h1M340 332.5h2M339 333.5h1M338 334.5h1M336 335.5h2M335 336.5h1M334 337.5h1M332 338.5h2M331 339.5h1M330 340.5h1M328 341.5h2M327 342.5h1M325 343.5h2M323 344.5h2M321 345.5h2M319 346.5h2M317 347.5h2M315 348.5h2M313 349.5h2M311 350.5h2M310 351.5h1M308 352.5h2M307 353.5h1M305 354.5h2M303 355.5h2M301 356.5h2M299 357.5h2M298 358.5h1M296 359.5h2M295 360.5h1M293 361.5h2M291 362.5h2M289 363.5h2M287 364.5h2M286 365.5h1M284 366.5h2M283 367.5h1M3 368.5h1M282 368.5h1M4 369.5h1M280 369.5h2M5 370.5h1M279 370.5h1M6 371.5h1M277 371.5h2M7 372.5h1M275 372.5h2M8 373.5h1M274 373.5h1M9 374.5h1M272 374.5h2M10 375.5h1M271 375.5h1M11 376.5h1M270 376.5h1M12 377.5h2M269 377.5h1M14 378.5h1M268 378.5h1M15 379.5h1M267 379.5h1M16 380.5h1M266 380.5h1M17 381.5h1M265 381.5h1M18 382.5h1M264 382.5h1M19 383.5h1M263 383.5h1M20 384.5h2M262 384.5h1M22 385.5h1M260 385.5h2M23 386.5h1M259 386.5h1M24 387.5h2M258 387.5h1M26 388.5h1M257 388.5h1M27 389.5h1M256 389.5h1M28 390.5h2M255 390.5h1M30 391.5h1M254 391.5h1M31 392.5h1M252 392.5h2M32 393.5h2M251 393.5h1M34 394.5h1M250 394.5h1M35 395.5h1M248 395.5h2M36 396.5h1M247 396.5h1M37 397.5h1M246 397.5h1M38 398.5h1M245 398.5h1M39 399.5h1M244 399.5h1M40 400.5h2M243 400.5h1M42 401.5h1M242 401.5h1M43 402.5h1M240 402.5h2M44 403.5h1M239 403.5h1M45 404.5h1M238 404.5h1M46 405.5h1M237.5 405v2M47 406.5h1M48 407.5h1M236 407.5h1M49 408.5h1M235 408.5h1M50 409.5h1M234 409.5h1M51 410.5h1M233.5 410v2M52 411.5h1M53 412.5h1M232 412.5h1M54 413.5h1M231 413.5h1M55 414.5h1M230 414.5h1M56 415.5h1M229.5 415v2M57 416.5h1M58 417.5h1M228 417.5h1M59 418.5h1M227 418.5h1M60 419.5h1M226 419.5h1M61 420.5h1M225.5 420v2M62 421.5h1M63 422.5h1M224 422.5h1M64 423.5h1M223 423.5h1M65 424.5h1M222 424.5h1M66 425.5h1M220 425.5h2M67 426.5h1M219 426.5h1M68 427.5h1M218 427.5h1M69.5 428v2M217 428.5h1M216 429.5h1M70 430.5h1M215 430.5h1M71 431.5h1M214 431.5h1M72 432.5h1M212 432.5h2M73.5 433v2M211 433.5h1M210 434.5h1M74 435.5h1M209.5 435v2M75 436.5h1M76 437.5h1M208 437.5h1M77 438.5h1M207 438.5h1M78 439.5h1M206 439.5h1M79 440.5h1M205.5 440v2M80 441.5h1M81 442.5h1M204 442.5h1M82 443.5h1M203 443.5h1M83 444.5h1M202 444.5h1M84 445.5h2M201 445.5h1M86 446.5h1M200 446.5h1M87 447.5h1M199 447.5h1M88 448.5h1M198 448.5h1M89 449.5h1M197.5 449v2M90 450.5h1M91 451.5h2M196 451.5h1M93 452.5h2M195 452.5h1M95 453.5h1M194 453.5h1M96 454.5h2M193 454.5h1M98 455.5h1M192 455.5h1M99 456.5h2M191 456.5h1M101 457.5h2M190 457.5h1M103 458.5h2M189 458.5h1M105 459.5h2M188 459.5h1M107 460.5h1M187 460.5h1M108 461.5h2M186 461.5h1M110 462.5h1M184 462.5h2M111 463.5h1M183 463.5h1M112 464.5h2M181 464.5h2M114 465.5h1M179 465.5h2M115 466.5h2M177 466.5h2M117 467.5h2M174 467.5h3M119 468.5h3M170 468.5h4M122 469.5h20M166 469.5h4M142 470.5h4M162 470.5h4M146 471.5h4M158 471.5h4M150 472.5h8" fill="none" stroke="#0000cd" stroke-width="1"/>
<path d="M1043 78.5h3M1041 79.5h2M1046 79.5h4M1039 80.5h2M1050 80.5h3M1038 81.5h1M1053 81.5h2M1037 82.5h1M1055 82.5h3M1036 83.5h1M1058 83.5h3M1035 84.5h1M1061 84.5h2M1034 85.5h1M1063 85.5h3M1033.5 86v2M1066 86.5h2M1068 87.5h1M1166 87.5h4M1032 88.5h1M1069 88.5h1M1154 88.5h4M1162 88.5h4M1170 88.5h4M1031 89.5h1M1070 89.5h1M1151 89.5h3M1158 89.5h4M1174 89.5h3M1030 90.5h1M1071 90.5h1M1149 90.5h2M1177 90.5h2M1029 91.5h1M1072 91.5h2M1147 91.5h2M1179 91.5h1M1028 92.5h1M1074 92.5h1M1146 92.5h1M1180 92.5h2M1027 93.5h1M1075 93.5h1M1144 93.5h2M1182 93.5h1M1026 94.5h1M1076 94.5h2M1143 94.5h1M1183 94.5h1M962 95.5h6M1024 95.5h2M1078 95.5h1M1142 95.5h1M1184 95.5h1M958 96.5h4M968 96.5h2M1018 96.5h6M1079 96.5h1M1140 96.5h2M1185 96.5h1M954 97.5h4M970 97.5h1M1014 97.5h4M1080 97.5h1M1139 97.5h1M1186 97.5h1M950 98.5h4M971 98.5h2M999 98.5h15M1081 98.5h1M1138 98.5h1M1187 98.5h1M947 99.5h3M973 99.5h2M997 99.5h2M1082 99.5h1M1137 99.5h1M1188.5 99v2M945 100.5h2M975 100.5h1M995 100.5h2M1083 100.5h1M1136 100.5h1M942 101.5h3M976 101.5h2M993 101.5h2M1084 101.5h2M1135 101.5h1M1189.5 101v2M938 102.5h4M978 102.5h1M991 102.5h2M1086 102.5h1M1134 102.5h1M935 103.5h3M979 103.5h2M989 103.5h2M1087 103.5h1M1132 103.5h2M1190.5 103v2M933 104.5h2M981 104.5h2M986 104.5h3M1088 104.5h1M1130 104.5h2M931 105.5h2M983 105.5h3M1089.5 105v2M1127 105.5h3M1191 105.5h1M929 106.5h2M1125 106.5h2M1192.5 106v2M927 107.5h2M1090 107.5h1M1123 107.5h2M925 108.5h2M1091 108.5h1M1121 108.5h2M1193 108.5h1M923 109.5h2M1092 109.5h2M1119 109.5h2M1194.5 109v2M922.5 110v2M1094 110.5h1M1117 110.5h2M1095 111.5h2M1115 111.5h2M1195 111.5h1M921 112.5h1M1097 112.5h2M1113 112.5h2M1196.5 112v2M920.5 113v2M1099 113.5h14M1197.5 114v2M919 115.5h1M918 116.5h1M1198.5 116v2M917 117.5h1M1286 117.5h7M916 118.5h1M1199 118.5h1M1283 118.5h3M1293 118.5h2M915 119.5h1M1200.5 119v2M1282 119.5h1M1295 119.5h2M914.5 120v2M1281 120.5h1M1297 120.5h2M1201.5 121v2M1280 121.5h1M1299 121.5h3M913 122.5h1M1279 122.5h1M1302 122.5h22M912.5 123v2M1202.5 123v2M1277 123.5h2M1274 124.5h3M911 125.5h1M1203 125.5h1M1263 125.5h11M910 126.5h1M1204.5 126v2M1262 126.5h1M909.5 127v2M1260 127.5h2M1205 128.5h1M1259 128.5h1M908 129.5h1M1206.5 129v2M1258 129.5h1M907 130.5h1M1257.5 130v2M906 131.5h1M1207 131.5h2M905.5 132v2M1209 132.5h2M1256 132.5h1M1211 133.5h5M1255 133.5h1M904 134.5h1M1216 134.5h2M1254 134.5h1M903 135.5h1M1218 135.5h1M1252 135.5h2M902 136.5h1M1219 136.5h1M1251 136.5h1M901.5 137v2M1220 137.5h2M1249 137.5h2M1222 138.5h1M1247 138.5h2M787 139.5h2M900 139.5h1M1223 139.5h1M1246 139.5h1M785 140.5h2M789 140.5h2M899 140.5h1M1224 140.5h2M1245 140.5h1M783 141.5h2M791 141.5h1M898.5 141v2M1226 141.5h1M1244 141.5h1M782 142.5h1M792 142.5h2M1227 142.5h1M1243 142.5h1M781.5 143v2M794 143.5h1M897.5 143v2M1228 143.5h2M1242 143.5h1M795 144.5h3M1230 144.5h1M1240 144.5h2M780 145.5h1M798 145.5h2M896.5 145v2M1231 145.5h3M1238 145.5h2M779 146.5h1M800 146.5h2M1234 146.5h4M778.5 147v2M802 147.5h1M895 147.5h1M803 148.5h1M894.5 148v2M777.5 149v2M804.5 149v2M893.5 150v2M776.5 151v2M805 151.5h1M806.5 152v2M892.5 152v2M775 153.5h1M774 154.5h1M807 154.5h1M891.5 154v2M773.5 155v2M808 155.5h1M809.5 156v2M890 156.5h1M772 157.5h1M889.5 157v2M771 158.5h1M810 158.5h1M770 159.5h1M811 159.5h1M888 159.5h1M769.5 160v2M812 160.5h1M887 160.5h1M813 161.5h1M886 161.5h1M768 162.5h1M814 162.5h1M885.5 162v2M767 163.5h1M815 163.5h1M766 164.5h1M816 164.5h1M884 164.5h1M765.5 165v2M817 165.5h1M883 165.5h1M818 166.5h1M882 166.5h1M764 167.5h1M819 167.5h1M881 167.5h1M763 168.5h1M820 168.5h1M880 168.5h1M762 169.5h1M821 169.5h1M879 169.5h1M761.5 170v2M822 170.5h1M878 170.5h1M823 171.5h1M877.5 171v2M760 172.5h1M824 172.5h2M759 173.5h1M826 173.5h1M876 173.5h1M758.5 174v2M827 174.5h1M875 174.5h1M828.5 175v2M874 175.5h1M757.5 176v2M873 176.5h1M829 177.5h1M872 177.5h1M756.5 178v2M830.5 178v2M871 178.5h1M870 179.5h1M606 180.5h7M755.5 180v2M831 180.5h1M869.5 180v2M603 181.5h3M613 181.5h2M832 181.5h1M601 182.5h2M615 182.5h1M754.5 182v2M833.5 182v2M868 182.5h1M599 183.5h2M616 183.5h2M867 183.5h1M597 184.5h2M618 184.5h1M753.5 184v2M834 184.5h1M866 184.5h1M595 185.5h2M619 185.5h1M835 185.5h1M865 185.5h1M594 186.5h1M620 186.5h1M752.5 186v2M836 186.5h1M864 186.5h1M592 187.5h2M621.5 187v2M837.5 187v2M863 187.5h1M591 188.5h1M751.5 188v3M862 188.5h1M590 189.5h1M622 189.5h1M838 189.5h1M860 189.5h2M588 190.5h2M623 190.5h1M839 190.5h1M859 190.5h1M586 191.5h2M624 191.5h1M750.5 191v2M840 191.5h2M858 191.5h1M583 192.5h3M625.5 192v2M842 192.5h1M856 192.5h2M582 193.5h1M749.5 193v2M843 193.5h3M850 193.5h6M580 194.5h2M626 194.5h1M846 194.5h4M579 195.5h1M627 195.5h1M748.5 195v2M578 196.5h1M628 196.5h1M576 197.5h2M629.5 197v2M747.5 197v3M575 198.5h1M550 199.5h3M574 199.5h1M630 199.5h1M547 200.5h3M553 200.5h2M572 200.5h2M631 200.5h1M746.5 200v2M545 201.5h2M555 201.5h1M571 201.5h1M632 201.5h1M542 202.5h3M556 202.5h2M570 202.5h1M633 202.5h1M745.5 202v2M539 203.5h3M558 203.5h1M568 203.5h2M634 203.5h1M538 204.5h1M559 204.5h3M566 204.5h2M635 204.5h1M744.5 204v2M536 205.5h2M562 205.5h4M636 205.5h2M535 206.5h1M638 206.5h1M743.5 206v3M533 207.5h2M639 207.5h1M531 208.5h2M640 208.5h2M530 209.5h1M642 209.5h1M742.5 209v2M529 210.5h1M643 210.5h1M528 211.5h1M644 211.5h1M741.5 211v2M527 212.5h1M645 212.5h1M526 213.5h1M646 213.5h1M740.5 213v2M525 214.5h1M647 214.5h1M524 215.5h1M648 215.5h1M739.5 215v3M523 216.5h1M649.5 216v2M522 217.5h1M520 218.5h2M650 218.5h1M738.5 218v2M519 219.5h1M651 219.5h1M517 220.5h2M652.5 220v2M737.5 220v2M515 221.5h2M514 222.5h1M653.5 222v2M736.5 222v2M512 223.5h2M511 224.5h1M654.5 224v2M735.5 224v3M510 225.5h1M508 226.5h2M655 226.5h1M507 227.5h1M656 227.5h1M734.5 227v2M506 228.5h1M657.5 228v2M504 229.5h2M733.5 229v3M503 230.5h1M658 230.5h1M502 231.5h1M659 231.5h1M501.5 232v2M660 232.5h1M732.5 232v2M661.5 233v2M500 234.5h1M731.5 234v2M499 235.5h1M662 235.5h1M498 236.5h1M663 236.5h1M730.5 236v2M497 237.5h1M664 237.5h2M454 238.5h11M496 238.5h1M666 238.5h1M729 238.5h1M443 239.5h3M450 239.5h4M465 239.5h2M495 239.5h1M667 239.5h7M728.5 239v2M442 240.5h1M446 240.5h4M467 240.5h1M494 240.5h1M674 240.5h4M440 241.5h2M468 241.5h2M493 241.5h1M678 241.5h3M727 241.5h1M439 242.5h1M470 242.5h1M492 242.5h1M681 242.5h2M726 242.5h1M438 243.5h1M471 243.5h2M491 243.5h1M683 243.5h1M725 243.5h1M436 244.5h2M473 244.5h2M489 244.5h2M684 244.5h1M724 244.5h1M435 245.5h1M475 245.5h3M486 245.5h3M685 245.5h1M723 245.5h1M434 246.5h1M478 246.5h8M686 246.5h1M721 246.5h2M432 247.5h2M687 247.5h1M719 247.5h2M431 248.5h1M688 248.5h1M718 248.5h1M430 249.5h1M689 249.5h1M716 249.5h2M429 250.5h1M690 250.5h1M715 250.5h1M428 251.5h1M691 251.5h2M714 251.5h1M427 252.5h1M693 252.5h2M712 252.5h2M426 253.5h1M695 253.5h1M711 253.5h1M424 254.5h2M696 254.5h1M709 254.5h2M423 255.5h1M697 255.5h1M707 255.5h2M422 256.5h1M698 256.5h1M705 256.5h2M421 257.5h1M699 257.5h6M420 258.5h1M419 259.5h1M418 260.5h1M417 261.5h1M416 262.5h1M415 263.5h1M414.5 264v2M413 266.5h1M412.5 267v2M411 269.5h1M410 270.5h1M409.5 271v2M408 273.5h1M407 274.5h1M406 275.5h1M405.5 276v2M404 278.5h1M403 279.5h1M402 280.5h1M401 281.5h1M400 282.5h1M399 283.5h1M398 284.5h1M396 285.5h2M395 286.5h1M394 287.5h1M392 288.5h2M391 289.5h1M390 290.5h1M378 291.5h3M389 291.5h1M374 292.5h4M381 292.5h2M388 292.5h1M370 293.5h4M383 293.5h5M366 294.5h4M362 295.5h4M358 296.5h4M355 297.5h3M353 298.5h2M351 299.5h2M350 300.5h1M349 301.5h1M348 302.5h1M347 303.5h1M346 304.5h1M345 305.5h1M344 306.5h1M343 307.5h1M342 308.5h1M341 309.5h1M340 310.5h1M339 311.5h1M338 312.5h1M337 313.5h1M336 314.5h1M335 315.5h1M334 316.5h1M333 317.5h1M332 318.5h1M331 319.5h1M330 320.5h1M329 321.5h1M328 322.5h1M327 323.5h1M326 324.5h1M325 325.5h1M324 326.5h1M323 327.5h1M322 328.5h1M321 329.5h1M320 330.5h1M319 331.5h1M318 332.5h1M317 333.5h1M316 334.5h1M315 335.5h1M314 336.5h1M313 337.5h1M312 338.5h1M311 339.5h1M310 340.5h1M309 341.5h1M308 342.5h1M307 343.5h1M306 344.5h1M305 345.5h1M304 346.5h1M303 347.5h1M302 348.5h1M300 349.5h2M282 350.5h8M299 350.5h1M279 351.5h3M290 351.5h4M297 351.5h2M277 352.5h2M294 352.5h3M275 353.5h2M273 354.5h2M271 355.5h2M270 356.5h1M268 357.5h2M266 358.5h2M254 359.5h12M250 360.5h4M246 361.5h4M242 362.5h4M239 363.5h3M238 364.5h1M236 365.5h2M235 366.5h1M234 367.5h1M233 368.5h1M232 369.5h1M231 370.5h1M230.5 371v2M229 373.5h1M228.5 374v2M227 376.5h1M226 377.5h1M225.5 378v2M224 380.5h1M223 381.5h1M222 382.5h1M220 383.5h2M219 384.5h1M218 385.5h1M217 386.5h1M216 387.5h1M215 388.5h1M214 389.5h1M212 390.5h2M211 391.5h1M210 392.5h1M209 393.5h1M208 394.5h1M207 395.5h1M206.5 396v2M205.5 398v2M3.5 399v2M204.5 400v2M4.5 401v2M203.5 402v2M5.5 403v2M202.5 404v2M6.5 405v2M201.5 406v2M7 407.5h1M8.5 408v2M200.5 408v2M9.5 410v2M199.5 410v2M10.5 412v2M198.5 412v2M11 414.5h1M197.5 414v2M12.5 415v2M196.5 416v2M13 417.5h1M14.5 418v2M195 418.5h1M194.5 419v2M15 420.5h1M16 421.5h1M193 421.5h1M17.5 422v2M192.5 422v2M18 424.5h1M191 424.5h1M19 425.5h1M190.5 425v2M20 426.5h2M22 427.5h1M189 427.5h1M23 428.5h1M188.5 428v2M24 429.5h2M26 430.5h1M187 430.5h1M27 431.5h3M186.5 431v2M30 432.5h3M33 433.5h2M185 433.5h1M35 434.5h2M184.5 434v2M37 435.5h2M39 436.5h2M183 436.5h1M41 437.5h2M182 437.5h1M43 438.5h1M181 438.5h1M44 439.5h2M180 439.5h1M46 440.5h1M179 440.5h1M47 441.5h1M178 441.5h1M48 442.5h1M177.5 442v2M49 443.5h1M50 444.5h1M176 444.5h1M51 445.5h2M175 445.5h1M53 446.5h2M174 446.5h1M55 447.5h2M173 447.5h1M57 448.5h2M172 448.5h1M59 449.5h9M171 449.5h1M68 450.5h2M170.5 450v2M70 451.5h1M71 452.5h1M169 452.5h1M72 453.5h2M168.5 453v2M74 454.5h1M75 455.5h1M167 455.5h1M76 456.5h1M166 456.5h1M77 457.5h1M165 457.5h1M78 458.5h1M164 458.5h1M79 459.5h1M163 459.5h1M80 460.5h1M162 460.5h1M81 461.5h1M161.5 461v2M82 462.5h1M83 463.5h1M160 463.5h1M84 464.5h1M159 464.5h1M85.5 465v2M158 465.5h1M157 466.5h1M86 467.5h1M156 467.5h1M87 468.5h1M155 468.5h1M88 469.5h1M154 469.5h1M89.5 470v2M153 470.5h1M152 471.5h1M90 472.5h1M151 472.5h1M91 473.5h1M149 473.5h2M92 474.5h2M147 474.5h2M94 475.5h1M145 475.5h2M95 476.5h1M143 476.5h2M96 477.5h2M142 477.5h1M98 478.5h1M140 478.5h2M99 479.5h3M139 479.5h1M102 480.5h3M138 480.5h1M105 481.5h2M136 481.5h2M107 482.5h1M135 482.5h1M108 483.5h2M134 483.5h1M110 484.5h1M132 484.5h2M111 485.5h1M131 485.5h1M112 486.5h2M130 486.5h1M114 487.5h1M128 487.5h2M115 488.5h2M127 488.5h1M117 489.5h2M125 489.5h2M119 490.5h6" fill="none" stroke="#ff0000" stroke-width="1"/>
<path d="M1031 68.5h11M1030 69.5h1M1042 69.5h2M1029 70.5h1M1044.5 70v2M1028 71.5h1M1027 72.5h1M1045.5 72v2M1026 73.5h1M1024 74.5h2M1046.5 74v2M1023 75.5h1M1022 76.5h1M1047.5 76v2M1020 77.5h2M1143 77.5h2M1019 78.5h1M1048.5 78v2M1142 78.5h1M1145 78.5h2M1018.5 79v2M1140 79.5h2M1147 79.5h3M1049.5 80v2M1138 80.5h2M1150 80.5h3M967 81.5h1M1017 81.5h1M1134 81.5h4M1153 81.5h2M966 82.5h1M968 82.5h1M1016.5 82v2M1050.5 82v2M1131 82.5h3M1155.5 82v2M923 83.5h2M964 83.5h2M969.5 83v2M1130 83.5h1M922 84.5h1M925 84.5h2M963 84.5h1M1015 84.5h1M1051.5 84v2M1129.5 84v2M1156.5 84v2M921 85.5h1M927.5 85v2M962.5 85v2M970 85.5h1M1014.5 85v2M920 86.5h1M971.5 86v2M1052.5 86v3M1128 86.5h1M1157.5 86v3M915 87.5h5M928.5 87v2M961.5 87v2M1013 87.5h1M1127 87.5h1M914 88.5h1M972.5 88v2M1012.5 88v2M1126.5 88v2M913 89.5h1M929.5 89v2M960.5 89v2M1053.5 89v3M1158.5 89v2M912 90.5h1M973.5 90v2M1010 90.5h2M1125.5 90v2M911.5 91v2M930.5 91v2M959.5 91v3M1007 91.5h3M1159.5 91v2M974.5 92v2M1006.5 92v2M1054.5 92v3M1124.5 92v2M910.5 93v2M931.5 93v3M1160.5 93v2M958.5 94v2M975.5 94v3M1005 94.5h1M1123 94.5h1M909.5 95v3M1004.5 95v2M1055.5 95v3M1122 95.5h1M1161 95.5h1M932.5 96v2M957.5 96v2M1121 96.5h1M1162.5 96v2M976.5 97v2M1003 97.5h1M1120 97.5h1M908.5 98v2M933.5 98v3M956.5 98v2M1002.5 98v2M1056.5 98v2M1119 98.5h1M1163 98.5h3M977.5 99v2M1118.5 99v2M1166 99.5h3M907.5 100v3M955.5 100v2M1001.5 100v2M1057.5 100v2M1169 100.5h2M1179 100.5h1M934.5 101v2M978.5 101v2M1117 101.5h1M1171 101.5h2M1178 101.5h1M1180 101.5h2M954.5 102v2M1000.5 102v2M1058.5 102v2M1116.5 102v2M1173 102.5h2M1176 102.5h2M1182 102.5h1M906.5 103v2M935.5 103v2M979.5 103v2M1175 103.5h1M1183.5 103v2M953.5 104v2M999 104.5h1M1059 104.5h1M1115 104.5h1M905.5 105v3M936 105.5h1M980.5 105v2M998 105.5h1M1060.5 105v2M1114 105.5h1M1184.5 105v3M937.5 106v2M952.5 106v2M997 106.5h1M1113.5 106v2M981.5 107v3M996 107.5h1M1061 107.5h1M904.5 108v2M938 108.5h1M951.5 108v2M995 108.5h1M1062.5 108v2M1075 108.5h1M1112 108.5h1M1185.5 108v2M939 109.5h1M994.5 109v2M1074 109.5h1M1076 109.5h2M1111 109.5h1M903.5 110v2M940.5 110v2M950.5 110v2M982.5 110v2M1063 110.5h3M1072 110.5h2M1078 110.5h1M1110 110.5h1M1186.5 110v3M993.5 111v2M1066 111.5h6M1079 111.5h2M1109.5 111v2M902.5 112v2M941.5 112v2M949.5 112v2M983.5 112v2M1081 112.5h2M992.5 113v2M1083 113.5h2M1108 113.5h1M1187.5 113v3M1287 113.5h3M901.5 114v2M942.5 114v2M948.5 114v2M984.5 114v2M1085 114.5h2M1103 114.5h5M1251 114.5h1M1285 114.5h2M1290 114.5h3M991 115.5h1M1087 115.5h1M1102 115.5h1M1250 115.5h1M1252 115.5h2M1283 115.5h2M1293 115.5h2M900.5 116v2M943 116.5h3M947.5 116v2M985 116.5h1M990 116.5h1M1088 116.5h1M1101 116.5h1M1188.5 116v4M1249 116.5h1M1254 116.5h1M1282.5 116v2M1295 116.5h1M946 117.5h1M986.5 117v2M989 117.5h1M1089.5 117v2M1100 117.5h1M1248 117.5h1M1255 117.5h1M1296 117.5h1M899.5 118v2M988 118.5h1M1099 118.5h1M1247 118.5h1M1256 118.5h2M1281 118.5h1M1297 118.5h1M987 119.5h1M1090 119.5h1M1098 119.5h1M1246 119.5h1M1258 119.5h1M1280.5 119v2M1298 119.5h1M898.5 120v2M1091 120.5h3M1096 120.5h2M1189.5 120v3M1245.5 120v2M1259 120.5h2M1299 120.5h1M1094 121.5h2M1261 121.5h2M1278 121.5h2M1300.5 121v2M897.5 122v2M1244 122.5h1M1263 122.5h2M1274 122.5h4M1190.5 123v4M1243 123.5h1M1265 123.5h2M1270 123.5h4M1301.5 123v2M1323 123.5h1M896.5 124v2M1242 124.5h1M1267 124.5h3M1322 124.5h1M1241.5 125v2M1302.5 125v2M1320 125.5h2M895.5 126v3M1319 126.5h1M1191.5 127v3M1240 127.5h1M1303 127.5h3M1317 127.5h2M1239 128.5h1M1306 128.5h11M894.5 129v3M1238.5 129v2M1192.5 130v3M1237 131.5h1M893.5 132v3M1227 132.5h1M1236.5 132v2M1193.5 133v4M1226.5 133v2M1228 133.5h1M1229 134.5h1M1235 134.5h1M892.5 135v3M1225 135.5h1M1230 135.5h1M1233 135.5h2M751 136.5h3M758 136.5h3M1224.5 136v2M1231 136.5h2M750.5 137v2M754 137.5h4M761 137.5h2M1194.5 137v3M763 138.5h1M787 138.5h2M891.5 138v2M1223.5 138v2M749.5 139v2M764 139.5h1M785 139.5h2M789 139.5h2M887 139.5h4M765 140.5h1M783 140.5h2M791 140.5h1M886 140.5h1M1195.5 140v3M1222.5 140v2M748.5 141v2M766 141.5h1M782 141.5h1M792.5 141v2M885 141.5h1M767 142.5h1M781.5 142v2M884 142.5h1M1221.5 142v3M747.5 143v2M768 143.5h1M793.5 143v2M883 143.5h1M1196.5 143v3M769 144.5h1M780 144.5h1M882 144.5h1M746.5 145v4M770 145.5h1M774 145.5h6M794.5 145v2M881 145.5h1M1220.5 145v2M771 146.5h3M880 146.5h1M1197.5 146v3M795 147.5h1M879 147.5h1M1219.5 147v2M796.5 148v2M877 148.5h2M745.5 149v3M874 149.5h3M1198.5 149v3M1218.5 149v2M797 150.5h1M871 150.5h3M798.5 151v2M870 151.5h1M1217.5 151v2M744.5 152v4M869 152.5h1M1199.5 152v3M799.5 153v2M868 153.5h1M1216.5 153v2M867 154.5h1M800.5 155v3M866 155.5h1M1200.5 155v3M1215 155.5h1M743.5 156v3M865.5 156v2M1214.5 156v2M801.5 158v2M864 158.5h1M1201.5 158v4M1213.5 158v2M742.5 159v4M863 159.5h1M802.5 160v3M862.5 160v2M1212.5 160v2M861 162.5h1M1202.5 162v3M1211.5 162v2M741.5 163v4M803.5 163v3M860.5 163v2M1210.5 164v2M586 165.5h2M859.5 165v2M1203.5 165v2M583 166.5h3M588 166.5h2M804.5 166v3M1209.5 166v2M582.5 167v2M590 167.5h1M740.5 167v4M858.5 167v3M1204 167.5h1M591 168.5h1M1205.5 168v2M1208.5 168v2M581.5 169v2M592 169.5h2M805.5 169v3M594 170.5h1M857.5 170v2M1206 170.5h2M580.5 171v2M595 171.5h2M739.5 171v3M1207 171.5h1M597 172.5h2M806.5 172v3M856.5 172v3M579.5 173v2M599 173.5h3M602 174.5h4M738.5 174v4M578.5 175v3M606 175.5h2M807.5 175v3M855.5 175v2M608.5 176v2M854.5 177v2M577.5 178v2M609 178.5h1M737.5 178v4M808.5 178v2M610.5 179v2M853.5 179v2M576.5 180v3M809.5 180v3M611.5 181v3M852.5 181v2M736.5 182v4M575.5 183v3M810.5 183v2M851.5 183v3M612.5 184v4M811.5 185v2M574.5 186v3M735.5 186v4M850.5 186v3M812 187.5h1M613.5 188v4M813.5 188v2M573.5 189v4M849.5 189v3M734.5 190v4M814 190.5h1M815.5 191v2M515 192.5h3M614.5 192v4M848.5 192v3M513 193.5h2M518 193.5h2M572.5 193v3M816.5 193v3M511 194.5h2M520 194.5h1M733.5 194v4M510 195.5h1M521 195.5h1M847.5 195v2M509.5 196v2M522 196.5h1M571.5 196v2M615.5 196v5M817.5 196v2M523 197.5h1M845 197.5h2M508 198.5h1M524 198.5h2M570.5 198v2M732.5 198v4M818.5 198v3M843 198.5h2M507 199.5h1M526 199.5h1M842.5 199v2M506 200.5h1M527 200.5h1M569.5 200v2M505.5 201v2M528 201.5h2M616.5 201v4M819.5 201v2M841 201.5h1M530 202.5h1M568.5 202v2M731.5 202v4M840.5 202v2M504 203.5h1M531 203.5h1M554 203.5h2M820.5 203v2M827 203.5h2M503.5 204v2M532 204.5h2M550 204.5h4M556 204.5h2M567.5 204v2M826 204.5h1M829 204.5h2M838 204.5h2M534 205.5h1M547 205.5h3M558 205.5h1M617.5 205v4M821 205.5h1M825.5 205v2M831 205.5h7M502.5 206v4M535 206.5h6M546 206.5h1M559 206.5h3M565 206.5h2M730.5 206v3M822.5 206v2M541 207.5h2M544 207.5h2M562 207.5h3M824 207.5h1M543 208.5h1M823 208.5h1M618.5 209v4M729.5 209v3M501.5 210v3M728.5 212v3M500.5 213v4M619.5 213v4M727.5 215v2M499.5 217v3M620.5 217v4M726 217.5h1M724 218.5h2M646 219.5h2M723 219.5h1M498.5 220v3M643 220.5h3M648 220.5h1M721 220.5h2M621.5 221v4M642.5 221v2M649 221.5h1M719 221.5h2M650 222.5h1M719 222.5h1M497.5 223v2M641.5 223v2M651.5 223v2M718.5 223v2M496.5 225v3M622.5 225v4M640.5 225v2M652.5 225v3M717.5 225v3M639.5 227v2M422 228.5h3M495.5 228v3M653.5 228v2M716.5 228v2M419 229.5h3M425 229.5h2M623.5 229v3M638.5 229v2M417 230.5h2M427 230.5h1M654.5 230v3M715.5 230v3M415 231.5h2M428 231.5h1M494.5 231v2M637 231.5h1M414.5 232v2M429 232.5h1M624.5 232v2M636.5 232v2M430 233.5h1M493.5 233v2M655.5 233v2M714.5 233v2M413 234.5h1M431 234.5h1M625.5 234v2M635 234.5h1M412.5 235v2M432 235.5h1M492.5 235v2M634.5 235v2M656 235.5h1M713.5 235v2M433 236.5h1M626.5 236v2M657.5 236v2M411 237.5h1M434 237.5h1M463 237.5h3M491.5 237v2M633.5 237v2M712.5 237v2M410 238.5h1M435 238.5h1M462 238.5h1M466 238.5h2M627.5 238v2M658 238.5h1M408 239.5h2M436.5 239v2M461.5 239v2M468 239.5h1M490.5 239v2M632.5 239v2M659.5 239v2M711.5 239v2M407.5 240v2M469 240.5h1M628 240.5h2M437 241.5h1M460 241.5h1M470 241.5h1M489.5 241v2M630 241.5h2M660.5 241v2M710.5 241v2M406.5 242v3M438.5 242v2M459 242.5h1M471 242.5h1M631 242.5h1M458 243.5h1M472 243.5h1M488.5 243v2M661.5 243v2M709.5 243v2M439 244.5h1M457.5 244v2M473.5 244v2M405.5 245v3M440 245.5h1M487.5 245v2M662.5 245v2M708.5 245v2M441.5 246v2M456 246.5h1M474 246.5h1M455 247.5h1M475 247.5h2M486 247.5h1M663.5 247v2M707.5 247v2M404.5 248v3M442 248.5h1M453 248.5h2M477 248.5h2M485.5 248v2M443 249.5h10M479 249.5h2M664 249.5h1M706.5 249v2M481 250.5h2M484 250.5h1M665 250.5h1M403.5 251v3M483 251.5h1M666 251.5h1M705.5 251v3M667 252.5h2M669 253.5h2M402.5 254v4M671 254.5h5M704.5 254v2M676 255.5h1M677 256.5h1M703.5 256v2M678 257.5h1M401.5 258v3M679 258.5h1M702.5 258v2M680 259.5h2M682 260.5h1M701.5 260v2M400.5 261v4M683 261.5h2M685 262.5h2M700.5 262v2M687 263.5h1M688 264.5h2M699.5 264v2M399.5 265v3M690 265.5h1M698 265.5h1M691 266.5h7M398.5 268v2M397.5 270v2M396.5 272v2M395.5 274v2M394.5 276v2M393.5 278v2M392.5 280v2M391.5 282v2M390.5 284v2M389.5 286v3M343 288.5h2M342 289.5h1M345 289.5h2M379 289.5h1M388.5 289v2M340 290.5h2M347 290.5h1M377 290.5h2M380 290.5h2M339 291.5h1M348 291.5h2M374 291.5h3M382 291.5h1M387.5 291v2M338 292.5h1M350 292.5h1M371 292.5h3M383 292.5h4M336 293.5h2M351 293.5h6M369 293.5h2M334 294.5h2M357 294.5h2M367 294.5h2M331 295.5h3M359 295.5h2M366 295.5h1M330 296.5h1M361 296.5h2M364 296.5h2M329 297.5h1M363 297.5h1M328 298.5h1M327 299.5h1M326 300.5h1M324 301.5h2M323 302.5h1M322 303.5h1M320 304.5h2M319 305.5h1M318 306.5h1M317 307.5h1M316 308.5h1M315.5 309v2M314.5 311v3M313.5 314v2M312.5 316v3M311.5 319v3M310.5 322v3M309.5 325v2M308.5 327v3M307.5 330v2M306.5 332v2M305.5 334v2M304.5 336v2M303.5 338v2M302 340.5h1M301.5 341v2M300 343.5h1M287 344.5h1M299 344.5h1M286 345.5h1M288 345.5h2M298 345.5h1M285 346.5h1M290 346.5h1M297.5 346v2M284 347.5h1M291 347.5h2M243 348.5h3M283 348.5h1M293 348.5h2M296 348.5h1M242 349.5h1M246 349.5h2M281 349.5h2M295 349.5h1M241 350.5h1M248 350.5h2M278 350.5h3M240 351.5h1M250 351.5h1M275 351.5h3M239 352.5h1M251 352.5h1M273 352.5h2M238.5 353v2M252 353.5h2M271 353.5h2M254 354.5h1M270 354.5h1M237 355.5h1M255 355.5h3M269 355.5h1M236.5 356v2M258 356.5h8M268 356.5h1M266 357.5h2M235 358.5h1M234.5 359v2M233.5 361v2M232.5 363v2M207 365.5h7M231.5 365v2M205 366.5h2M214 366.5h3M203 367.5h2M217 367.5h2M230 367.5h1M202.5 368v2M219 368.5h1M229.5 368v2M220 369.5h1M201.5 370v2M221 370.5h1M228 370.5h1M222 371.5h1M226 371.5h2M200.5 372v2M223 372.5h3M199 374.5h1M198.5 375v2M197.5 377v2M196.5 379v2M195.5 381v2M194.5 383v2M193.5 385v3M192.5 388v2M191.5 390v3M190.5 393v2M189.5 395v3M188.5 398v2M187.5 400v3M186.5 403v3M185.5 406v2M184.5 408v3M183.5 411v2M182.5 413v2M181 415.5h1M180.5 416v2M179 418.5h1M3 419.5h1M178 419.5h1M4.5 420v2M177.5 420v2M5.5 422v2M176 422.5h1M175 423.5h1M6.5 424v2M173 424.5h2M171 425.5h2M7.5 426v2M171 426.5h1M170.5 427v2M8.5 428v2M169.5 429v2M9.5 430v2M168.5 431v2M10.5 432v2M167.5 433v3M11.5 434v3M166.5 436v2M12.5 437v2M165.5 438v3M13.5 439v2M14.5 441v2M34 441.5h7M164.5 441v2M31 442.5h3M41 442.5h2M15 443.5h1M30.5 443v2M43 443.5h3M163.5 443v2M16.5 444v2M46 444.5h2M29 445.5h1M48.5 445v2M162.5 445v2M17 446.5h1M28.5 446v2M18.5 447v2M49 447.5h1M161.5 447v2M26 448.5h2M50.5 448v2M19 449.5h7M160.5 449v2M51 450.5h2M53 451.5h2M159 451.5h1M55 452.5h1M158.5 452v2M56 453.5h2M58 454.5h1M157.5 454v2M59 455.5h3M143 455.5h1M62 456.5h3M141 456.5h2M144 456.5h1M156.5 456v2M65 457.5h2M139 457.5h2M145 457.5h1M67 458.5h1M138 458.5h1M146 458.5h1M155.5 458v2M68 459.5h1M137 459.5h1M147 459.5h1M69 460.5h1M136 460.5h1M148 460.5h1M154 460.5h1M70 461.5h1M135.5 461v2M149 461.5h1M153 461.5h1M71.5 462v2M150 462.5h1M152 462.5h1M134.5 463v2M151 463.5h1M72.5 464v2M133.5 465v3M73.5 466v2M74.5 468v2M132.5 468v2M75.5 470v2M131.5 470v2M76.5 472v2M130.5 472v2M77.5 474v2M129.5 474v2M78.5 476v2M128.5 476v2M79.5 478v2M127 478.5h1M126.5 479v2M80.5 480v2M125.5 481v2M81.5 482v2M124.5 483v2M82.5 484v2M123.5 485v2M83.5 486v3M111 486.5h1M110 487.5h1M112 487.5h2M121 487.5h2M109 488.5h1M114 488.5h1M118 488.5h3M84.5 489v2M108 489.5h1M115 489.5h3M107 490.5h1M85.5 491v2M106 491.5h1M104 492.5h2M86.5 493v2M103 493.5h1M102 494.5h1M87 495.5h1M101 495.5h1M88 496.5h1M100 496.5h1M89.5 497v2M98 497.5h2M95 498.5h3M90 499.5h1M93 499.5h2M91 500.5h2" fill="none" stroke="#ffa500" stroke-width="1"/>
<rect x="3" y="101" width="1664" height="2" fill="#ff0000"/>
<rect x="3" y="185" width="1664" height="2" fill="#00ff00"/>
<rect x="3" y="266" width="1664" height="2" fill="#0000cd"/>
<rect x="3" y="347" width="1664" height="2" fill="#0000ff"/>
<rect x="1328" y="27" width="9" height="1" fill="#c0c0c0"/>
<rect x="1329" y="28" width="7" height="1" fill="#c0c0c0"/>
<rect x="1330" y="29" width="5" height="1" fill="#c0c0c0"/>
<rect x="1331" y="30" width="3" height="1" fill="#c0c0c0"/>
<rect x="1332" y="31" width="1" height="1" fill="#c0c0c0"/>
<polygon points="6,33 13,33 9.5,37" fill="#000"/>
<text transform="translate(18.2,38) scale(0.912,1)" font-size="10.2" fill="#000" text-anchor="start">EURUSD,H4&#160;&#160;1.21770 1.21861 1.21751 1.21854</text>
<line x1="3" y1="552.5" x2="1667" y2="552.5" stroke="#c0c0c0" stroke-width="1" stroke-dasharray="3,3"/>
<line x1="3" y1="588.5" x2="1667" y2="588.5" stroke="#c0c0c0" stroke-width="1" stroke-dasharray="3,3"/>
<path d="M199 546.5h7M197 547.5h2M206 547.5h2M187 548.5h10M207 548.5h1M330 548.5h2M503.5 548v2M735 548.5h5M186 549.5h1M208.5 549v2M314 549.5h2M327 549.5h3M332 549.5h1M391.5 549v2M502 549.5h1M734 549.5h1M740 549.5h1M184 550.5h2M235 550.5h3M310 550.5h4M316 550.5h1M326 550.5h1M333 550.5h1M392.5 550v2M411 550.5h2M501 550.5h1M504.5 550v2M733.5 550v2M741 550.5h1M759.5 550v2M183 551.5h1M209.5 551v2M233 551.5h2M238 551.5h2M307 551.5h3M317 551.5h1M324 551.5h2M334 551.5h1M342 551.5h2M390.5 551v3M409 551.5h2M413 551.5h2M500 551.5h1M575 551.5h1M742 551.5h1M746 551.5h8M757 551.5h2M915.5 551v2M181 552.5h2M227 552.5h6M240.5 552v2M306 552.5h1M318 552.5h1M322 552.5h2M335 552.5h7M343 552.5h1M393.5 552v2M407 552.5h2M415 552.5h1M499 552.5h1M505.5 552v2M574 552.5h1M576 552.5h1M732 552.5h1M743 552.5h3M754 552.5h3M760.5 552v2M895 552.5h2M913 552.5h2M179 553.5h2M210.5 553v2M226.5 553v2M304 553.5h2M319 553.5h3M344.5 553v2M405 553.5h2M416 553.5h1M498 553.5h1M572 553.5h2M577.5 553v2M731 553.5h1M894.5 553v2M897 553.5h2M907 553.5h6M916.5 553v2M178.5 554v2M241.5 554v2M299 554.5h5M389.5 554v4M394.5 554v2M402 554.5h3M417.5 554v2M497 554.5h1M506.5 554v2M571 554.5h1M730.5 554v2M761.5 554v3M899 554.5h2M906 554.5h1M211 555.5h2M219 555.5h1M225.5 555v2M299 555.5h1M345.5 555v2M398 555.5h4M496 555.5h1M570.5 555v2M578 555.5h1M778 555.5h4M893.5 555v2M901 555.5h2M904 555.5h2M917.5 555v2M177 556.5h1M213 556.5h2M217 556.5h2M220 556.5h1M242.5 556v2M298.5 556v3M355 556.5h1M395 556.5h3M418 556.5h1M422 556.5h2M495 556.5h1M507 556.5h3M579 556.5h1M729.5 556v2M775 556.5h3M782 556.5h2M903 556.5h1M1015 556.5h1M176.5 557v2M215 557.5h2M221 557.5h1M224.5 557v2M259 557.5h1M346.5 557v2M354 557.5h1M356.5 557v2M367 557.5h10M419 557.5h3M424 557.5h1M493 557.5h2M510 557.5h2M569 557.5h1M580 557.5h1M762.5 557v2M774 557.5h1M784.5 557v2M892.5 557v2M918.5 557v2M923 557.5h1M1014.5 557v2M1016 557.5h2M159 558.5h6M222 558.5h1M243 558.5h3M257 558.5h2M260 558.5h1M271 558.5h3M282 558.5h3M352 558.5h2M365 558.5h2M377 558.5h2M388.5 558v3M425 558.5h1M490 558.5h3M512 558.5h2M523 558.5h1M568.5 558v2M581.5 558v2M728.5 558v2M773 558.5h1M871 558.5h1M922 558.5h1M924 558.5h1M1018 558.5h1M158 559.5h1M165 559.5h2M170 559.5h6M223 559.5h1M246 559.5h2M255 559.5h2M261 559.5h1M270.5 559v2M274 559.5h8M285 559.5h2M297.5 559v2M347 559.5h5M357.5 559v2M363 559.5h2M379.5 559v2M426 559.5h1M430 559.5h2M487 559.5h3M514 559.5h1M521 559.5h2M524.5 559v2M763.5 559v2M772 559.5h1M785.5 559v2M870.5 559v2M872.5 559v2M891.5 559v2M919 559.5h3M925 559.5h1M958 559.5h7M1013.5 559v2M1019 559.5h1M1035 559.5h1M156 560.5h2M167 560.5h3M248 560.5h2M254 560.5h1M262 560.5h1M287 560.5h1M362 560.5h1M427 560.5h3M432 560.5h2M455 560.5h2M486.5 560v2M515 560.5h6M567 560.5h1M582 560.5h1M595 560.5h1M727.5 560v2M764 560.5h2M770 560.5h2M887 560.5h4M919 560.5h1M926 560.5h1M954 560.5h4M965 560.5h2M1020 560.5h1M1027 560.5h2M1034 560.5h1M1036 560.5h1M1283.5 560v2M155.5 561v2M250 561.5h1M252 561.5h2M263 561.5h1M269 561.5h1M288.5 561v2M296.5 561v3M358.5 561v2M361 561.5h1M380.5 561v3M387.5 561v2M434 561.5h1M453 561.5h2M457 561.5h2M462 561.5h2M525 561.5h1M566.5 561v2M583 561.5h1M594 561.5h1M596 561.5h2M766 561.5h4M786.5 561v2M869 561.5h1M873 561.5h1M885 561.5h2M927.5 561v2M951 561.5h3M967.5 561v2M1012.5 561v2M1021.5 561v2M1026 561.5h1M1029 561.5h2M1032 561.5h2M1037 561.5h1M1139 561.5h5M1282.5 561v2M251 562.5h1M264 562.5h2M268.5 562v2M360 562.5h1M435 562.5h1M447 562.5h6M459 562.5h3M464 562.5h1M485.5 562v2M526.5 562v2M539 562.5h2M547 562.5h1M584 562.5h1M592 562.5h2M598 562.5h1M707 562.5h1M726 562.5h1M851 562.5h3M858 562.5h3M868.5 562v2M874.5 562v2M879 562.5h6M949 562.5h2M1007 562.5h3M1025 562.5h1M1031 562.5h1M1038 562.5h1M1118 562.5h3M1127 562.5h1M1137 562.5h2M1144.5 562v2M1284.5 562v2M154.5 563v3M266 563.5h1M289 563.5h1M359 563.5h1M386.5 563v2M436.5 563v2M446.5 563v2M465 563.5h1M530 563.5h2M538.5 563v2M541 563.5h2M545 563.5h2M548 563.5h2M565.5 563v2M585 563.5h1M591 563.5h1M599 563.5h3M706 563.5h1M708 563.5h1M715 563.5h6M725 563.5h1M787 563.5h1M850.5 563v2M854 563.5h4M861 563.5h2M877 563.5h2M928.5 563v2M947 563.5h2M968.5 563v2M1005 563.5h2M1010 563.5h2M1022 563.5h1M1024 563.5h1M1039 563.5h1M1115 563.5h3M1121 563.5h2M1125 563.5h2M1128 563.5h2M1135 563.5h2M1281 563.5h1M267 564.5h1M290.5 564v2M295.5 564v2M381.5 564v2M466 564.5h1M484.5 564v2M527 564.5h3M532 564.5h1M543 564.5h2M550 564.5h1M586 564.5h1M589 564.5h2M602 564.5h2M705.5 564v2M709.5 564v2M714 564.5h1M721 564.5h2M724 564.5h1M788 564.5h2M863 564.5h5M875 564.5h2M946 564.5h1M991 564.5h6M1003 564.5h2M1023 564.5h1M1040 564.5h1M1115 564.5h1M1123 564.5h2M1130 564.5h1M1133 564.5h2M1145.5 564v2M1239 564.5h2M1280.5 564v2M1285.5 564v2M130 565.5h6M294 565.5h1M385.5 565v2M437.5 565v2M445 565.5h1M467 565.5h1M533.5 565v2M537 565.5h1M551 565.5h2M564.5 565v2M587 565.5h2M604.5 565v2M713 565.5h1M723 565.5h1M790 565.5h1M849 565.5h1M929.5 565v2M945 565.5h1M969.5 565v3M990.5 565v2M997 565.5h2M1001 565.5h2M1041.5 565v2M1114.5 565v2M1131 565.5h2M1238 565.5h1M1241 565.5h2M127 566.5h3M136 566.5h1M153.5 566v2M291 566.5h3M382.5 566v3M444.5 566v2M468.5 566v2M482 566.5h2M536.5 566v2M553 566.5h2M704 566.5h1M710 566.5h1M712 566.5h1M791 566.5h1M799.5 566v2M848.5 566v2M944 566.5h1M999 566.5h2M1146.5 566v2M1236 566.5h2M1243 566.5h3M1279 566.5h1M1286.5 566v2M126 567.5h1M137.5 567v2M384.5 567v2M438.5 567v2M479 567.5h3M534 567.5h1M555 567.5h2M563 567.5h1M605 567.5h1M703.5 567v2M711 567.5h1M792 567.5h1M798 567.5h1M930.5 567v2M943 567.5h1M989 567.5h1M1042 567.5h1M1113.5 567v2M1150 567.5h2M1235 567.5h1M1246 567.5h2M1278 567.5h1M1323 567.5h1M125 568.5h1M143 568.5h1M152.5 568v3M442 568.5h2M469 568.5h1M478 568.5h1M535 568.5h1M557 568.5h2M561 568.5h2M606.5 568v2M793 568.5h1M797 568.5h1M800.5 568v2M847 568.5h1M935 568.5h3M941 568.5h2M970.5 568v2M988.5 568v2M1043 568.5h1M1147 568.5h3M1152 568.5h2M1234.5 568v2M1248 568.5h2M1259 568.5h2M1277 568.5h1M1287.5 568v2M1322 568.5h1M124 569.5h1M138 569.5h1M141 569.5h2M144.5 569v2M383.5 569v2M439 569.5h3M470.5 569v2M476 569.5h2M559 569.5h2M702.5 569v3M794 569.5h1M796 569.5h1M845 569.5h2M931.5 569v2M933 569.5h2M938 569.5h3M1044 569.5h1M1103 569.5h1M1112.5 569v2M1154 569.5h1M1211.5 569v3M1212 569.5h1M1250 569.5h1M1258 569.5h1M1261 569.5h2M1271 569.5h3M1276 569.5h1M1288 569.5h1M1307 569.5h1M1320 569.5h2M123 570.5h1M139 570.5h2M474 570.5h2M607 570.5h1M635 570.5h1M795 570.5h1M801.5 570v2M843 570.5h2M932 570.5h1M971.5 570v2M987 570.5h1M1045.5 570v2M1101 570.5h2M1104 570.5h2M1155.5 570v2M1166 570.5h4M1213 570.5h2M1233.5 570v2M1251 570.5h3M1256 570.5h2M1263 570.5h3M1269 570.5h2M1274 570.5h2M1289 570.5h2M1306 570.5h1M1308 570.5h2M1319 570.5h1M122 571.5h1M145 571.5h1M151.5 571v2M471 571.5h3M608 571.5h1M634 571.5h1M636 571.5h2M827.5 571v2M842 571.5h1M986 571.5h1M1095 571.5h6M1106 571.5h1M1111.5 571v2M1163 571.5h3M1170 571.5h4M1215 571.5h2M1254 571.5h2M1266 571.5h3M1291 571.5h2M1305 571.5h1M1310 571.5h1M1317 571.5h2M121.5 572v2M146.5 572v2M609.5 572v2M633 572.5h1M638 572.5h1M642 572.5h2M701.5 572v3M802.5 572v2M828.5 572v2M841 572.5h1M972 572.5h2M985 572.5h1M1046 572.5h1M1095 572.5h1M1107 572.5h4M1156.5 572v2M1163 572.5h1M1174 572.5h3M1210.5 572v4M1217 572.5h2M1232.5 572v2M1293 572.5h2M1304 572.5h1M1311 572.5h6M149 573.5h2M632 573.5h1M639 573.5h3M644 573.5h1M826.5 573v2M835 573.5h3M840 573.5h1M974 573.5h1M978 573.5h4M984 573.5h1M1047 573.5h1M1075 573.5h1M1094.5 573v2M1162.5 573v2M1177 573.5h2M1219 573.5h6M1295 573.5h3M1302 573.5h2M120 574.5h1M147 574.5h2M610 574.5h1M631 574.5h1M645 574.5h1M803 574.5h1M829 574.5h1M834 574.5h1M838 574.5h2M975 574.5h3M982 574.5h2M1048 574.5h1M1059 574.5h3M1066 574.5h4M1073 574.5h2M1076 574.5h1M1157.5 574v3M1179 574.5h2M1225 574.5h2M1230 574.5h2M1298 574.5h4M119.5 575v2M611.5 575v2M630 575.5h1M646 575.5h1M700.5 575v3M804.5 575v2M825.5 575v2M830.5 575v2M833 575.5h1M1049 575.5h1M1058 575.5h1M1062 575.5h4M1070 575.5h3M1077 575.5h1M1087 575.5h1M1093.5 575v3M1161.5 575v2M1181 575.5h2M1227 575.5h3M629.5 576v2M647 576.5h2M815 576.5h1M832 576.5h1M1050 576.5h1M1057 576.5h1M1078 576.5h1M1086 576.5h1M1088.5 576v2M1183.5 576v2M1209.5 576v4M118.5 577v2M612.5 577v2M649 577.5h2M671 577.5h1M805 577.5h1M814 577.5h1M816 577.5h2M824.5 577v2M831 577.5h1M1051 577.5h3M1056 577.5h1M1079 577.5h3M1084 577.5h2M1158.5 577v2M1160.5 577v2M103 578.5h1M628 578.5h1M651 578.5h1M659 578.5h2M669 578.5h2M672 578.5h2M694 578.5h4M699.5 578v2M806.5 578v2M812 578.5h2M818 578.5h1M1054 578.5h2M1082 578.5h2M1089 578.5h1M1092.5 578v2M1184.5 578v2M102 579.5h1M104 579.5h2M117.5 579v2M613.5 579v2M627 579.5h1M652 579.5h1M658 579.5h1M661 579.5h2M666 579.5h3M674 579.5h1M691 579.5h3M698 579.5h1M810 579.5h2M819 579.5h3M823.5 579v2M1090.5 579v2M1159.5 579v2M31 580.5h3M100 580.5h2M106 580.5h1M110 580.5h2M626 580.5h1M653.5 580v2M657.5 580v2M663 580.5h3M675 580.5h2M689 580.5h2M807 580.5h3M822 580.5h1M1091.5 580v2M1185.5 580v2M1208.5 580v4M30 581.5h1M34 581.5h3M55 581.5h2M63 581.5h1M98 581.5h2M107 581.5h3M112 581.5h1M116.5 581v2M614.5 581v2M625.5 581v2M677 581.5h2M686 581.5h3M29.5 582v2M37 582.5h2M54 582.5h1M57 582.5h2M61 582.5h2M64 582.5h2M95 582.5h3M113 582.5h1M654 582.5h1M656 582.5h1M679 582.5h7M1186.5 582v2M23 583.5h2M39 583.5h6M53.5 583v2M59 583.5h2M66 583.5h1M95 583.5h1M114 583.5h2M615 583.5h3M624 583.5h1M655 583.5h1M22 584.5h1M25 584.5h2M28 584.5h1M45 584.5h2M67 584.5h1M94.5 584v2M115 584.5h1M618 584.5h6M1187.5 584v2M1207.5 584v3M21.5 585v2M27 585.5h1M47 585.5h3M52 585.5h1M68 585.5h1M50 586.5h2M69 586.5h1M93.5 586v2M1188 586.5h1M1195 586.5h3M15 587.5h3M20 587.5h1M70 587.5h1M1189 587.5h1M1194 587.5h1M1198 587.5h3M1206 587.5h1M14.5 588v2M18 588.5h2M71 588.5h1M92.5 588v2M1190 588.5h1M1192 588.5h2M1201 588.5h2M1204 588.5h2M72 589.5h2M79 589.5h7M1191 589.5h1M1203 589.5h1M3 590.5h3M13 590.5h1M74 590.5h1M77 590.5h2M86 590.5h4M91.5 590v2M6 591.5h3M12.5 591v2M75 591.5h2M90 591.5h1M9 592.5h2M11 593.5h1" fill="none" stroke="#1e90ff" stroke-width="1"/>
<text transform="translate(7.3,537) scale(0.912,1)" font-size="10.2" fill="#000" text-anchor="start">RSI(14) 53.0478</text>
<rect x="3" y="663" width="1" height="38" fill="#c0c0c0"/>
<rect x="7" y="663" width="1" height="40" fill="#c0c0c0"/>
<rect x="11" y="663" width="1" height="42" fill="#c0c0c0"/>
<rect x="15" y="663" width="1" height="41" fill="#c0c0c0"/>
<rect x="19" y="663" width="1" height="41" fill="#c0c0c0"/>
<rect x="23" y="663" width="1" height="38" fill="#c0c0c0"/>
<rect x="27" y="663" width="1" height="37" fill="#c0c0c0"/>
<rect x="31" y="663" width="1" height="34" fill="#c0c0c0"/>
<rect x="35" y="663" width="1" height="32" fill="#c0c0c0"/>
<rect x="39" y="663" width="1" height="31" fill="#c0c0c0"/>
<rect x="43" y="663" width="1" height="30" fill="#c0c0c0"/>
<rect x="47" y="663" width="1" height="30" fill="#c0c0c0"/>
<rect x="51" y="663" width="1" height="31" fill="#c0c0c0"/>
<rect x="55" y="663" width="1" height="29" fill="#c0c0c0"/>
<rect x="59" y="663" width="1" height="28" fill="#c0c0c0"/>
<rect x="63" y="663" width="1" height="27" fill="#c0c0c0"/>
<rect x="67" y="663" width="1" height="27" fill="#c0c0c0"/>
<rect x="71" y="663" width="1" height="29" fill="#c0c0c0"/>
<rect x="75" y="663" width="1" height="32" fill="#c0c0c0"/>
<rect x="79" y="663" width="1" height="33" fill="#c0c0c0"/>
<rect x="83" y="663" width="1" height="34" fill="#c0c0c0"/>
<rect x="87" y="663" width="1" height="36" fill="#c0c0c0"/>
<rect x="91" y="663" width="1" height="37" fill="#c0c0c0"/>
<rect x="95" y="663" width="1" height="35" fill="#c0c0c0"/>
<rect x="99" y="663" width="1" height="33" fill="#c0c0c0"/>
<rect x="103" y="663" width="1" height="30" fill="#c0c0c0"/>
<rect x="107" y="663" width="1" height="29" fill="#c0c0c0"/>
<rect x="111" y="663" width="1" height="27" fill="#c0c0c0"/>
<rect x="115" y="663" width="1" height="27" fill="#c0c0c0"/>
<rect x="119" y="663" width="1" height="25" fill="#c0c0c0"/>
<rect x="123" y="663" width="1" height="21" fill="#c0c0c0"/>
<rect x="127" y="663" width="1" height="16" fill="#c0c0c0"/>
<rect x="131" y="663" width="1" height="11" fill="#c0c0c0"/>
<rect x="135" y="663" width="1" height="8" fill="#c0c0c0"/>
<rect x="139" y="663" width="1" height="6" fill="#c0c0c0"/>
<rect x="143" y="663" width="1" height="5" fill="#c0c0c0"/>
<rect x="147" y="663" width="1" height="5" fill="#c0c0c0"/>
<rect x="151" y="663" width="1" height="5" fill="#c0c0c0"/>
<rect x="155" y="663" width="1" height="1" fill="#c0c0c0"/>
<rect x="159" y="659" width="1" height="5" fill="#c0c0c0"/>
<rect x="163" y="655" width="1" height="9" fill="#c0c0c0"/>
<rect x="167" y="652" width="1" height="12" fill="#c0c0c0"/>
<rect x="171" y="650" width="1" height="14" fill="#c0c0c0"/>
<rect x="175" y="649" width="1" height="15" fill="#c0c0c0"/>
<rect x="179" y="645" width="1" height="19" fill="#c0c0c0"/>
<rect x="183" y="641" width="1" height="23" fill="#c0c0c0"/>
<rect x="187" y="636" width="1" height="28" fill="#c0c0c0"/>
<rect x="191" y="633" width="1" height="31" fill="#c0c0c0"/>
<rect x="195" y="631" width="1" height="33" fill="#c0c0c0"/>
<rect x="199" y="628" width="1" height="36" fill="#c0c0c0"/>
<rect x="203" y="626" width="1" height="38" fill="#c0c0c0"/>
<rect x="207" y="625" width="1" height="39" fill="#c0c0c0"/>
<rect x="211" y="626" width="1" height="38" fill="#c0c0c0"/>
<rect x="215" y="628" width="1" height="36" fill="#c0c0c0"/>
<rect x="219" y="629" width="1" height="35" fill="#c0c0c0"/>
<rect x="223" y="631" width="1" height="33" fill="#c0c0c0"/>
<rect x="227" y="630" width="1" height="34" fill="#c0c0c0"/>
<rect x="231" y="629" width="1" height="35" fill="#c0c0c0"/>
<rect x="235" y="628" width="1" height="36" fill="#c0c0c0"/>
<rect x="239" y="628" width="1" height="36" fill="#c0c0c0"/>
<rect x="243" y="629" width="1" height="35" fill="#c0c0c0"/>
<rect x="247" y="631" width="1" height="33" fill="#c0c0c0"/>
<rect x="251" y="634" width="1" height="30" fill="#c0c0c0"/>
<rect x="255" y="635" width="1" height="29" fill="#c0c0c0"/>
<rect x="259" y="636" width="1" height="28" fill="#c0c0c0"/>
<rect x="263" y="638" width="1" height="26" fill="#c0c0c0"/>
<rect x="267" y="640" width="1" height="24" fill="#c0c0c0"/>
<rect x="271" y="640" width="1" height="24" fill="#c0c0c0"/>
<rect x="275" y="640" width="1" height="24" fill="#c0c0c0"/>
<rect x="279" y="641" width="1" height="23" fill="#c0c0c0"/>
<rect x="283" y="641" width="1" height="23" fill="#c0c0c0"/>
<rect x="287" y="642" width="1" height="22" fill="#c0c0c0"/>
<rect x="291" y="645" width="1" height="19" fill="#c0c0c0"/>
<rect x="295" y="646" width="1" height="18" fill="#c0c0c0"/>
<rect x="299" y="644" width="1" height="20" fill="#c0c0c0"/>
<rect x="303" y="642" width="1" height="22" fill="#c0c0c0"/>
<rect x="307" y="639" width="1" height="25" fill="#c0c0c0"/>
<rect x="311" y="637" width="1" height="27" fill="#c0c0c0"/>
<rect x="315" y="635" width="1" height="29" fill="#c0c0c0"/>
<rect x="319" y="634" width="1" height="30" fill="#c0c0c0"/>
<rect x="323" y="634" width="1" height="30" fill="#c0c0c0"/>
<rect x="327" y="633" width="1" height="31" fill="#c0c0c0"/>
<rect x="331" y="631" width="1" height="33" fill="#c0c0c0"/>
<rect x="335" y="632" width="1" height="32" fill="#c0c0c0"/>
<rect x="339" y="632" width="1" height="32" fill="#c0c0c0"/>
<rect x="343" y="632" width="1" height="32" fill="#c0c0c0"/>
<rect x="347" y="634" width="1" height="30" fill="#c0c0c0"/>
<rect x="351" y="636" width="1" height="28" fill="#c0c0c0"/>
<rect x="355" y="637" width="1" height="27" fill="#c0c0c0"/>
<rect x="359" y="639" width="1" height="25" fill="#c0c0c0"/>
<rect x="363" y="640" width="1" height="24" fill="#c0c0c0"/>
<rect x="367" y="641" width="1" height="23" fill="#c0c0c0"/>
<rect x="371" y="641" width="1" height="23" fill="#c0c0c0"/>
<rect x="375" y="642" width="1" height="22" fill="#c0c0c0"/>
<rect x="379" y="643" width="1" height="21" fill="#c0c0c0"/>
<rect x="383" y="646" width="1" height="18" fill="#c0c0c0"/>
<rect x="387" y="647" width="1" height="17" fill="#c0c0c0"/>
<rect x="391" y="641" width="1" height="23" fill="#c0c0c0"/>
<rect x="395" y="639" width="1" height="25" fill="#c0c0c0"/>
<rect x="399" y="636" width="1" height="28" fill="#c0c0c0"/>
<rect x="403" y="634" width="1" height="30" fill="#c0c0c0"/>
<rect x="407" y="632" width="1" height="32" fill="#c0c0c0"/>
<rect x="411" y="629" width="1" height="35" fill="#c0c0c0"/>
<rect x="415" y="627" width="1" height="37" fill="#c0c0c0"/>
<rect x="419" y="628" width="1" height="36" fill="#c0c0c0"/>
<rect x="423" y="629" width="1" height="35" fill="#c0c0c0"/>
<rect x="427" y="631" width="1" height="33" fill="#c0c0c0"/>
<rect x="431" y="633" width="1" height="31" fill="#c0c0c0"/>
<rect x="435" y="635" width="1" height="29" fill="#c0c0c0"/>
<rect x="439" y="639" width="1" height="25" fill="#c0c0c0"/>
<rect x="443" y="642" width="1" height="22" fill="#c0c0c0"/>
<rect x="447" y="643" width="1" height="21" fill="#c0c0c0"/>
<rect x="451" y="644" width="1" height="20" fill="#c0c0c0"/>
<rect x="455" y="644" width="1" height="20" fill="#c0c0c0"/>
<rect x="459" y="645" width="1" height="19" fill="#c0c0c0"/>
<rect x="463" y="645" width="1" height="19" fill="#c0c0c0"/>
<rect x="467" y="646" width="1" height="18" fill="#c0c0c0"/>
<rect x="471" y="650" width="1" height="14" fill="#c0c0c0"/>
<rect x="475" y="652" width="1" height="12" fill="#c0c0c0"/>
<rect x="479" y="653" width="1" height="11" fill="#c0c0c0"/>
<rect x="483" y="654" width="1" height="10" fill="#c0c0c0"/>
<rect x="487" y="652" width="1" height="12" fill="#c0c0c0"/>
<rect x="491" y="650" width="1" height="14" fill="#c0c0c0"/>
<rect x="495" y="648" width="1" height="16" fill="#c0c0c0"/>
<rect x="499" y="644" width="1" height="20" fill="#c0c0c0"/>
<rect x="503" y="639" width="1" height="25" fill="#c0c0c0"/>
<rect x="507" y="638" width="1" height="26" fill="#c0c0c0"/>
<rect x="511" y="637" width="1" height="27" fill="#c0c0c0"/>
<rect x="515" y="638" width="1" height="26" fill="#c0c0c0"/>
<rect x="519" y="639" width="1" height="25" fill="#c0c0c0"/>
<rect x="523" y="639" width="1" height="25" fill="#c0c0c0"/>
<rect x="527" y="641" width="1" height="23" fill="#c0c0c0"/>
<rect x="531" y="642" width="1" height="22" fill="#c0c0c0"/>
<rect x="535" y="645" width="1" height="19" fill="#c0c0c0"/>
<rect x="539" y="645" width="1" height="19" fill="#c0c0c0"/>
<rect x="543" y="647" width="1" height="17" fill="#c0c0c0"/>
<rect x="547" y="646" width="1" height="18" fill="#c0c0c0"/>
<rect x="551" y="648" width="1" height="16" fill="#c0c0c0"/>
<rect x="555" y="649" width="1" height="15" fill="#c0c0c0"/>
<rect x="559" y="652" width="1" height="12" fill="#c0c0c0"/>
<rect x="563" y="653" width="1" height="11" fill="#c0c0c0"/>
<rect x="567" y="651" width="1" height="13" fill="#c0c0c0"/>
<rect x="571" y="647" width="1" height="17" fill="#c0c0c0"/>
<rect x="575" y="642" width="1" height="22" fill="#c0c0c0"/>
<rect x="579" y="640" width="1" height="24" fill="#c0c0c0"/>
<rect x="583" y="640" width="1" height="24" fill="#c0c0c0"/>
<rect x="587" y="642" width="1" height="22" fill="#c0c0c0"/>
<rect x="591" y="643" width="1" height="21" fill="#c0c0c0"/>
<rect x="595" y="642" width="1" height="22" fill="#c0c0c0"/>
<rect x="599" y="643" width="1" height="21" fill="#c0c0c0"/>
<rect x="603" y="644" width="1" height="20" fill="#c0c0c0"/>
<rect x="607" y="647" width="1" height="17" fill="#c0c0c0"/>
<rect x="611" y="652" width="1" height="12" fill="#c0c0c0"/>
<rect x="615" y="660" width="1" height="4" fill="#c0c0c0"/>
<rect x="619" y="663" width="1" height="4" fill="#c0c0c0"/>
<rect x="623" y="663" width="1" height="10" fill="#c0c0c0"/>
<rect x="627" y="663" width="1" height="12" fill="#c0c0c0"/>
<rect x="631" y="663" width="1" height="12" fill="#c0c0c0"/>
<rect x="635" y="663" width="1" height="11" fill="#c0c0c0"/>
<rect x="639" y="663" width="1" height="11" fill="#c0c0c0"/>
<rect x="643" y="663" width="1" height="10" fill="#c0c0c0"/>
<rect x="647" y="663" width="1" height="11" fill="#c0c0c0"/>
<rect x="651" y="663" width="1" height="13" fill="#c0c0c0"/>
<rect x="655" y="663" width="1" height="17" fill="#c0c0c0"/>
<rect x="659" y="663" width="1" height="18" fill="#c0c0c0"/>
<rect x="663" y="663" width="1" height="20" fill="#c0c0c0"/>
<rect x="667" y="663" width="1" height="21" fill="#c0c0c0"/>
<rect x="671" y="663" width="1" height="21" fill="#c0c0c0"/>
<rect x="675" y="663" width="1" height="22" fill="#c0c0c0"/>
<rect x="679" y="663" width="1" height="23" fill="#c0c0c0"/>
<rect x="683" y="663" width="1" height="25" fill="#c0c0c0"/>
<rect x="687" y="663" width="1" height="25" fill="#c0c0c0"/>
<rect x="691" y="663" width="1" height="24" fill="#c0c0c0"/>
<rect x="695" y="663" width="1" height="23" fill="#c0c0c0"/>
<rect x="699" y="663" width="1" height="22" fill="#c0c0c0"/>
<rect x="703" y="663" width="1" height="18" fill="#c0c0c0"/>
<rect x="707" y="663" width="1" height="12" fill="#c0c0c0"/>
<rect x="711" y="663" width="1" height="9" fill="#c0c0c0"/>
<rect x="715" y="663" width="1" height="5" fill="#c0c0c0"/>
<rect x="719" y="663" width="1" height="2" fill="#c0c0c0"/>
<rect x="723" y="663" width="1" height="1" fill="#c0c0c0"/>
<rect x="727" y="660" width="1" height="4" fill="#c0c0c0"/>
<rect x="731" y="653" width="1" height="11" fill="#c0c0c0"/>
<rect x="735" y="644" width="1" height="20" fill="#c0c0c0"/>
<rect x="739" y="636" width="1" height="28" fill="#c0c0c0"/>
<rect x="743" y="632" width="1" height="32" fill="#c0c0c0"/>
<rect x="747" y="629" width="1" height="35" fill="#c0c0c0"/>
<rect x="751" y="626" width="1" height="38" fill="#c0c0c0"/>
<rect x="755" y="625" width="1" height="39" fill="#c0c0c0"/>
<rect x="759" y="623" width="1" height="41" fill="#c0c0c0"/>
<rect x="763" y="625" width="1" height="39" fill="#c0c0c0"/>
<rect x="767" y="628" width="1" height="36" fill="#c0c0c0"/>
<rect x="771" y="630" width="1" height="34" fill="#c0c0c0"/>
<rect x="775" y="629" width="1" height="35" fill="#c0c0c0"/>
<rect x="779" y="628" width="1" height="36" fill="#c0c0c0"/>
<rect x="783" y="629" width="1" height="35" fill="#c0c0c0"/>
<rect x="787" y="632" width="1" height="32" fill="#c0c0c0"/>
<rect x="791" y="635" width="1" height="29" fill="#c0c0c0"/>
<rect x="795" y="640" width="1" height="24" fill="#c0c0c0"/>
<rect x="799" y="642" width="1" height="22" fill="#c0c0c0"/>
<rect x="803" y="648" width="1" height="16" fill="#c0c0c0"/>
<rect x="807" y="655" width="1" height="9" fill="#c0c0c0"/>
<rect x="811" y="660" width="1" height="4" fill="#c0c0c0"/>
<rect x="815" y="663" width="1" height="1" fill="#c0c0c0"/>
<rect x="819" y="663" width="1" height="5" fill="#c0c0c0"/>
<rect x="823" y="663" width="1" height="8" fill="#c0c0c0"/>
<rect x="827" y="663" width="1" height="8" fill="#c0c0c0"/>
<rect x="831" y="663" width="1" height="11" fill="#c0c0c0"/>
<rect x="835" y="663" width="1" height="11" fill="#c0c0c0"/>
<rect x="839" y="663" width="1" height="11" fill="#c0c0c0"/>
<rect x="843" y="663" width="1" height="10" fill="#c0c0c0"/>
<rect x="847" y="663" width="1" height="8" fill="#c0c0c0"/>
<rect x="851" y="663" width="1" height="3" fill="#c0c0c0"/>
<rect x="855" y="662" width="1" height="2" fill="#c0c0c0"/>
<rect x="859" y="659" width="1" height="5" fill="#c0c0c0"/>
<rect x="863" y="657" width="1" height="7" fill="#c0c0c0"/>
<rect x="867" y="655" width="1" height="9" fill="#c0c0c0"/>
<rect x="871" y="651" width="1" height="13" fill="#c0c0c0"/>
<rect x="875" y="651" width="1" height="13" fill="#c0c0c0"/>
<rect x="879" y="649" width="1" height="15" fill="#c0c0c0"/>
<rect x="883" y="648" width="1" height="16" fill="#c0c0c0"/>
<rect x="887" y="646" width="1" height="18" fill="#c0c0c0"/>
<rect x="891" y="645" width="1" height="19" fill="#c0c0c0"/>
<rect x="895" y="640" width="1" height="24" fill="#c0c0c0"/>
<rect x="899" y="636" width="1" height="28" fill="#c0c0c0"/>
<rect x="903" y="635" width="1" height="29" fill="#c0c0c0"/>
<rect x="907" y="631" width="1" height="33" fill="#c0c0c0"/>
<rect x="911" y="629" width="1" height="35" fill="#c0c0c0"/>
<rect x="915" y="627" width="1" height="37" fill="#c0c0c0"/>
<rect x="919" y="628" width="1" height="36" fill="#c0c0c0"/>
<rect x="923" y="628" width="1" height="36" fill="#c0c0c0"/>
<rect x="927" y="629" width="1" height="35" fill="#c0c0c0"/>
<rect x="931" y="635" width="1" height="29" fill="#c0c0c0"/>
<rect x="935" y="639" width="1" height="25" fill="#c0c0c0"/>
<rect x="939" y="642" width="1" height="22" fill="#c0c0c0"/>
<rect x="943" y="645" width="1" height="19" fill="#c0c0c0"/>
<rect x="947" y="644" width="1" height="20" fill="#c0c0c0"/>
<rect x="951" y="643" width="1" height="21" fill="#c0c0c0"/>
<rect x="955" y="642" width="1" height="22" fill="#c0c0c0"/>
<rect x="959" y="641" width="1" height="23" fill="#c0c0c0"/>
<rect x="963" y="640" width="1" height="24" fill="#c0c0c0"/>
<rect x="967" y="640" width="1" height="24" fill="#c0c0c0"/>
<rect x="971" y="644" width="1" height="20" fill="#c0c0c0"/>
<rect x="975" y="649" width="1" height="15" fill="#c0c0c0"/>
<rect x="979" y="653" width="1" height="11" fill="#c0c0c0"/>
<rect x="983" y="656" width="1" height="8" fill="#c0c0c0"/>
<rect x="987" y="657" width="1" height="7" fill="#c0c0c0"/>
<rect x="991" y="656" width="1" height="8" fill="#c0c0c0"/>
<rect x="995" y="655" width="1" height="9" fill="#c0c0c0"/>
<rect x="999" y="655" width="1" height="9" fill="#c0c0c0"/>
<rect x="1003" y="654" width="1" height="10" fill="#c0c0c0"/>
<rect x="1007" y="653" width="1" height="11" fill="#c0c0c0"/>
<rect x="1011" y="653" width="1" height="11" fill="#c0c0c0"/>
<rect x="1015" y="649" width="1" height="15" fill="#c0c0c0"/>
<rect x="1019" y="647" width="1" height="17" fill="#c0c0c0"/>
<rect x="1023" y="648" width="1" height="16" fill="#c0c0c0"/>
<rect x="1027" y="647" width="1" height="17" fill="#c0c0c0"/>
<rect x="1031" y="646" width="1" height="18" fill="#c0c0c0"/>
<rect x="1035" y="645" width="1" height="19" fill="#c0c0c0"/>
<rect x="1039" y="645" width="1" height="19" fill="#c0c0c0"/>
<rect x="1043" y="648" width="1" height="16" fill="#c0c0c0"/>
<rect x="1047" y="652" width="1" height="12" fill="#c0c0c0"/>
<rect x="1051" y="656" width="1" height="8" fill="#c0c0c0"/>
<rect x="1055" y="661" width="1" height="3" fill="#c0c0c0"/>
<rect x="1059" y="663" width="1" height="1" fill="#c0c0c0"/>
<rect x="1063" y="663" width="1" height="2" fill="#c0c0c0"/>
<rect x="1067" y="663" width="1" height="3" fill="#c0c0c0"/>
<rect x="1071" y="663" width="1" height="5" fill="#c0c0c0"/>
<rect x="1075" y="663" width="1" height="5" fill="#c0c0c0"/>
<rect x="1079" y="663" width="1" height="7" fill="#c0c0c0"/>
<rect x="1083" y="663" width="1" height="9" fill="#c0c0c0"/>
<rect x="1087" y="663" width="1" height="10" fill="#c0c0c0"/>
<rect x="1091" y="663" width="1" height="12" fill="#c0c0c0"/>
<rect x="1095" y="663" width="1" height="11" fill="#c0c0c0"/>
<rect x="1099" y="663" width="1" height="10" fill="#c0c0c0"/>
<rect x="1103" y="663" width="1" height="8" fill="#c0c0c0"/>
<rect x="1107" y="663" width="1" height="8" fill="#c0c0c0"/>
<rect x="1111" y="663" width="1" height="8" fill="#c0c0c0"/>
<rect x="1115" y="663" width="1" height="4" fill="#c0c0c0"/>
<rect x="1119" y="663" width="1" height="1" fill="#c0c0c0"/>
<rect x="1123" y="661" width="1" height="3" fill="#c0c0c0"/>
<rect x="1127" y="659" width="1" height="5" fill="#c0c0c0"/>
<rect x="1131" y="658" width="1" height="6" fill="#c0c0c0"/>
<rect x="1135" y="657" width="1" height="7" fill="#c0c0c0"/>
<rect x="1139" y="655" width="1" height="9" fill="#c0c0c0"/>
<rect x="1143" y="654" width="1" height="10" fill="#c0c0c0"/>
<rect x="1147" y="655" width="1" height="9" fill="#c0c0c0"/>
<rect x="1151" y="655" width="1" height="9" fill="#c0c0c0"/>
<rect x="1155" y="657" width="1" height="7" fill="#c0c0c0"/>
<rect x="1159" y="661" width="1" height="3" fill="#c0c0c0"/>
<rect x="1163" y="662" width="1" height="2" fill="#c0c0c0"/>
<rect x="1167" y="662" width="1" height="2" fill="#c0c0c0"/>
<rect x="1171" y="663" width="1" height="1" fill="#c0c0c0"/>
<rect x="1175" y="663" width="1" height="1" fill="#c0c0c0"/>
<rect x="1179" y="663" width="1" height="2" fill="#c0c0c0"/>
<rect x="1183" y="663" width="1" height="4" fill="#c0c0c0"/>
<rect x="1187" y="663" width="1" height="10" fill="#c0c0c0"/>
<rect x="1191" y="663" width="1" height="16" fill="#c0c0c0"/>
<rect x="1195" y="663" width="1" height="21" fill="#c0c0c0"/>
<rect x="1199" y="663" width="1" height="25" fill="#c0c0c0"/>
<rect x="1203" y="663" width="1" height="29" fill="#c0c0c0"/>
<rect x="1207" y="663" width="1" height="31" fill="#c0c0c0"/>
<rect x="1211" y="663" width="1" height="26" fill="#c0c0c0"/>
<rect x="1215" y="663" width="1" height="23" fill="#c0c0c0"/>
<rect x="1219" y="663" width="1" height="20" fill="#c0c0c0"/>
<rect x="1223" y="663" width="1" height="19" fill="#c0c0c0"/>
<rect x="1227" y="663" width="1" height="18" fill="#c0c0c0"/>
<rect x="1231" y="663" width="1" height="17" fill="#c0c0c0"/>
<rect x="1235" y="663" width="1" height="13" fill="#c0c0c0"/>
<rect x="1239" y="663" width="1" height="9" fill="#c0c0c0"/>
<rect x="1243" y="663" width="1" height="6" fill="#c0c0c0"/>
<rect x="1247" y="663" width="1" height="4" fill="#c0c0c0"/>
<rect x="1251" y="663" width="1" height="4" fill="#c0c0c0"/>
<rect x="1255" y="663" width="1" height="4" fill="#c0c0c0"/>
<rect x="1259" y="663" width="1" height="3" fill="#c0c0c0"/>
<rect x="1263" y="663" width="1" height="2" fill="#c0c0c0"/>
<rect x="1267" y="663" width="1" height="2" fill="#c0c0c0"/>
<rect x="1271" y="663" width="1" height="2" fill="#c0c0c0"/>
<rect x="1275" y="663" width="1" height="2" fill="#c0c0c0"/>
<rect x="1279" y="663" width="1" height="1" fill="#c0c0c0"/>
<rect x="1283" y="660" width="1" height="4" fill="#c0c0c0"/>
<rect x="1287" y="660" width="1" height="4" fill="#c0c0c0"/>
<rect x="1291" y="661" width="1" height="3" fill="#c0c0c0"/>
<rect x="1295" y="663" width="1" height="1" fill="#c0c0c0"/>
<rect x="1299" y="663" width="1" height="1" fill="#c0c0c0"/>
<rect x="1303" y="663" width="1" height="2" fill="#c0c0c0"/>
<rect x="1307" y="663" width="1" height="2" fill="#c0c0c0"/>
<rect x="1311" y="663" width="1" height="2" fill="#c0c0c0"/>
<rect x="1315" y="663" width="1" height="3" fill="#c0c0c0"/>
<rect x="1319" y="663" width="1" height="2" fill="#c0c0c0"/>
<rect x="1323" y="663" width="1" height="1" fill="#c0c0c0"/>
<path d="M774 626.5h1M778 626.5h3M784 626.5h2M225 627.5h3M231 627.5h3M237 627.5h3M772 627.5h2M786 627.5h1M219 628.5h3M243 628.5h3M249 628.5h1M790 628.5h3M215 629.5h1M250 629.5h2M767 629.5h2M213 630.5h2M255 630.5h3M261 630.5h1M430 630.5h2M435 630.5h3M766 630.5h1M796 630.5h2M927 630.5h3M933 630.5h3M262 631.5h2M429 631.5h1M441 631.5h2M798 631.5h1M939 631.5h2M267 632.5h2M345 632.5h3M351 632.5h3M357 632.5h1M423 632.5h3M443 632.5h1M923 632.5h1M941 632.5h1M208 633.5h2M269 633.5h1M339 633.5h3M358 633.5h2M447 633.5h2M762 633.5h1M802 633.5h1M921 633.5h2M945 633.5h1M207 634.5h1M273 634.5h1M335 634.5h1M363 634.5h3M419 634.5h1M449 634.5h1M760 634.5h2M803 634.5h1M946 634.5h2M274 635.5h2M333 635.5h2M369 635.5h1M417 635.5h2M804 635.5h1M279 636.5h3M370 636.5h2M453 636.5h2M916 636.5h2M951 636.5h2M203 637.5h1M285 637.5h1M327 637.5h3M375 637.5h3M413 637.5h1M455 637.5h1M915 637.5h1M953 637.5h1M202 638.5h1M286 638.5h2M411 638.5h2M459 638.5h2M757 638.5h1M808 638.5h2M957 638.5h1M201 639.5h1M291 639.5h2M322 639.5h2M381 639.5h2M406 639.5h2M461 639.5h1M526 639.5h2M531 639.5h3M537 639.5h3M756 639.5h1M810 639.5h1M911 639.5h1M958 639.5h2M293 640.5h1M315 640.5h3M321 640.5h1M383 640.5h1M405 640.5h1M465 640.5h1M525 640.5h1M543 640.5h3M755 640.5h1M909 640.5h2M963 640.5h3M297 641.5h3M303 641.5h3M309 641.5h3M387 641.5h3M393 641.5h3M399 641.5h3M466 641.5h2M521 641.5h1M969 641.5h3M196 642.5h2M519 642.5h2M549 642.5h2M603 642.5h3M609 642.5h1M975 642.5h3M195 643.5h1M471 643.5h2M515 643.5h1M551 643.5h1M598 643.5h2M610 643.5h2M814 643.5h1M904 643.5h2M981 643.5h1M473 644.5h1M513 644.5h2M555 644.5h3M597 644.5h1M751 644.5h1M815 644.5h1M903 644.5h1M982 644.5h2M477 645.5h1M561 645.5h1M586 645.5h2M591 645.5h3M615 645.5h1M750 645.5h1M816 645.5h1M191 646.5h1M478 646.5h2M509 646.5h1M562 646.5h2M585 646.5h1M616 646.5h2M749 646.5h1M899 646.5h1M987 646.5h2M1042 646.5h2M1047 646.5h3M190 647.5h1M483 647.5h3M507 647.5h2M567 647.5h3M574 647.5h2M579 647.5h3M897 647.5h2M989 647.5h1M1041 647.5h1M189 648.5h1M489 648.5h1M502 648.5h2M573 648.5h1M993 648.5h1M1035 648.5h3M1053 648.5h2M490 649.5h2M495 649.5h3M501 649.5h1M621 649.5h1M820 649.5h1M893 649.5h1M994 649.5h2M1030 649.5h2M1055 649.5h1M622 650.5h1M746 650.5h1M821.5 650v2M891 650.5h2M1029 650.5h1M1059 650.5h2M185 651.5h1M623 651.5h1M745.5 651v2M999 651.5h3M1023 651.5h3M1061 651.5h1M184 652.5h1M887 652.5h1M1005 652.5h1M1018 652.5h2M183 653.5h1M885 653.5h2M1006 653.5h2M1017 653.5h1M1065 653.5h1M1011 654.5h3M1066 654.5h1M627 655.5h1M825 655.5h1M1067 655.5h1M179 656.5h1M628 656.5h2M741.5 656v2M826 656.5h1M880 656.5h2M1155 656.5h3M1161 656.5h3M177 657.5h2M827 657.5h1M879 657.5h1M1071 657.5h1M1150 657.5h2M1167 657.5h3M1173 657.5h1M740 658.5h1M1072 658.5h2M1149 658.5h1M1174 658.5h2M173 659.5h1M875 659.5h1M1145 659.5h1M171 660.5h2M633 660.5h1M831 660.5h1M874 660.5h1M1143 660.5h2M1179 660.5h3M634 661.5h1M832 661.5h1M873 661.5h1M1077 661.5h2M1139 661.5h1M635 662.5h1M737 662.5h1M833 662.5h1M1079 662.5h1M1137 662.5h2M1185 662.5h2M1293 662.5h3M1299 662.5h3M1305 662.5h3M1311 662.5h3M1317 662.5h1M167 663.5h1M736 663.5h1M1187 663.5h1M1287 663.5h3M1318 663.5h2M1323 663.5h1M165 664.5h2M735 664.5h1M868 664.5h2M1133 664.5h1M1281 664.5h3M639 665.5h1M837 665.5h1M867 665.5h1M1083 665.5h3M1131 665.5h2M1191 665.5h1M1275 665.5h3M640 666.5h2M838 666.5h1M1192 666.5h2M1270 666.5h2M160 667.5h2M839 667.5h1M862 667.5h2M1089 667.5h2M1127 667.5h1M1269 667.5h1M159 668.5h1M731 668.5h1M861 668.5h1M1091 668.5h1M1125 668.5h2M1265 668.5h1M645 669.5h1M730 669.5h1M843 669.5h3M857 669.5h1M1095 669.5h3M1197 669.5h1M1263 669.5h2M646 670.5h1M729 670.5h1M849 670.5h3M855 670.5h2M1101 670.5h1M1119 670.5h3M1198 670.5h1M155 671.5h1M647 671.5h1M1102 671.5h2M1107 671.5h3M1113 671.5h3M1199 671.5h1M1258 671.5h2M153 672.5h2M651 672.5h2M1257 672.5h1M653 673.5h1M1253 673.5h1M657 674.5h1M724 674.5h2M1203 674.5h1M1251 674.5h2M148 675.5h2M658 675.5h2M723 675.5h1M1204 675.5h2M147 676.5h1M663 676.5h3M1247 676.5h1M669 677.5h1M1246 677.5h1M143 678.5h1M670 678.5h2M719 678.5h1M1209 678.5h1M1245 678.5h1M142 679.5h1M675 679.5h2M717 679.5h2M1210 679.5h1M141 680.5h1M677 680.5h1M1211 680.5h1M1241 680.5h1M681 681.5h1M713 681.5h1M1239 681.5h2M682 682.5h2M711 682.5h2M1215 682.5h2M136 683.5h2M687 683.5h3M1217 683.5h1M135 684.5h1M693 684.5h1M706 684.5h2M1221 684.5h1M1234 684.5h2M694 685.5h2M699 685.5h3M705 685.5h1M1222 685.5h2M1227 685.5h3M1233 685.5h1M131 686.5h1M130 687.5h1M129 688.5h1M125 690.5h1M70 691.5h2M75 691.5h3M123 691.5h2M63 692.5h3M69 692.5h1M81 692.5h3M87 693.5h3M118 693.5h2M3 694.5h3M58 694.5h2M93 694.5h3M117 694.5h1M57 695.5h1M99 695.5h3M105 695.5h3M111 695.5h3M9 696.5h2M51 696.5h3M11 697.5h1M46 697.5h2M15 698.5h2M45 698.5h1M17 699.5h1M39 699.5h3M21 700.5h3M34 700.5h2M27 701.5h3M33 701.5h1" fill="none" stroke="#ff0000" stroke-width="1"/>
<text transform="translate(7.3,630) scale(0.912,1)" font-size="10.2" fill="#000" text-anchor="start">MACD(12,26,9) -0.000042 -0.000039</text>
<rect x="2" y="26" width="1666" height="1" fill="#000"/>
<rect x="2" y="522" width="1666" height="1" fill="#000"/>
<rect x="2" y="26" width="1" height="497" fill="#000"/>
<rect x="1667" y="26" width="1" height="497" fill="#000"/>
<rect x="2" y="524" width="1666" height="1" fill="#000"/>
<rect x="2" y="615" width="1666" height="1" fill="#000"/>
<rect x="2" y="524" width="1" height="92" fill="#000"/>
<rect x="1667" y="524" width="1" height="92" fill="#000"/>
<rect x="2" y="617" width="1666" height="1" fill="#000"/>
<rect x="2" y="707" width="1666" height="1" fill="#000"/>
<rect x="2" y="617" width="1" height="91" fill="#000"/>
<rect x="1667" y="617" width="1" height="91" fill="#000"/>
<rect x="1667" y="116" width="1" height="1" fill="#c0c0c0"/>
<rect x="2" y="99" width="6" height="6" fill="#ff0000"/>
<rect x="4" y="101" width="2" height="2" fill="#ffffff"/>
<rect x="1661" y="99" width="6" height="6" fill="#ff0000"/>
<rect x="1663" y="101" width="2" height="2" fill="#ffffff"/>
<rect x="2" y="183" width="6" height="6" fill="#00ff00"/>
<rect x="4" y="185" width="2" height="2" fill="#ffffff"/>
<rect x="1661" y="183" width="6" height="6" fill="#00ff00"/>
<rect x="1663" y="185" width="2" height="2" fill="#ffffff"/>
<rect x="2" y="264" width="6" height="6" fill="#0000cd"/>
<rect x="4" y="266" width="2" height="2" fill="#ffffff"/>
<rect x="1661" y="264" width="6" height="6" fill="#0000cd"/>
<rect x="1663" y="266" width="2" height="2" fill="#ffffff"/>
<rect x="1668" y="57" width="2" height="1" fill="#000"/>
<text transform="translate(1673.6,61) scale(0.875,1)" font-size="10.2" fill="#000" text-anchor="start">1.22580</text>
<rect x="1668" y="90" width="2" height="1" fill="#000"/>
<text transform="translate(1673.6,94) scale(0.875,1)" font-size="10.2" fill="#000" text-anchor="start">1.22170</text>
<rect x="1668" y="123" width="2" height="1" fill="#000"/>
<text transform="translate(1673.6,127) scale(0.875,1)" font-size="10.2" fill="#000" text-anchor="start">1.21770</text>
<rect x="1668" y="156" width="2" height="1" fill="#000"/>
<text transform="translate(1673.6,160) scale(0.875,1)" font-size="10.2" fill="#000" text-anchor="start">1.21370</text>
<rect x="1668" y="189" width="2" height="1" fill="#000"/>
<text transform="translate(1673.6,193) scale(0.875,1)" font-size="10.2" fill="#000" text-anchor="start">1.20960</text>
<rect x="1668" y="222" width="2" height="1" fill="#000"/>
<text transform="translate(1673.6,226) scale(0.875,1)" font-size="10.2" fill="#000" text-anchor="start">1.20560</text>
<rect x="1668" y="255" width="2" height="1" fill="#000"/>
<text transform="translate(1673.6,259) scale(0.875,1)" font-size="10.2" fill="#000" text-anchor="start">1.20150</text>
<rect x="1668" y="288" width="2" height="1" fill="#000"/>
<text transform="translate(1673.6,292) scale(0.875,1)" font-size="10.2" fill="#000" text-anchor="start">1.19750</text>
<rect x="1668" y="321" width="2" height="1" fill="#000"/>
<text transform="translate(1673.6,325) scale(0.875,1)" font-size="10.2" fill="#000" text-anchor="start">1.19340</text>
<rect x="1668" y="354" width="2" height="1" fill="#000"/>
<text transform="translate(1673.6,358) scale(0.875,1)" font-size="10.2" fill="#000" text-anchor="start">1.18940</text>
<rect x="1668" y="387" width="2" height="1" fill="#000"/>
<text transform="translate(1673.6,391) scale(0.875,1)" font-size="10.2" fill="#000" text-anchor="start">1.18540</text>
<rect x="1668" y="420" width="2" height="1" fill="#000"/>
<text transform="translate(1673.6,424) scale(0.875,1)" font-size="10.2" fill="#000" text-anchor="start">1.18130</text>
<rect x="1668" y="453" width="2" height="1" fill="#000"/>
<text transform="translate(1673.6,457) scale(0.875,1)" font-size="10.2" fill="#000" text-anchor="start">1.17730</text>
<rect x="1668" y="486" width="2" height="1" fill="#000"/>
<text transform="translate(1673.6,490) scale(0.875,1)" font-size="10.2" fill="#000" text-anchor="start">1.17320</text>
<rect x="1668" y="519" width="2" height="1" fill="#000"/>
<text transform="translate(1673.6,523) scale(0.875,1)" font-size="10.2" fill="#000" text-anchor="start">1.16920</text>
<rect x="1669" y="111" width="40" height="11" fill="#000"/>
<text transform="translate(1673.6,120) scale(0.875,1)" font-size="10.2" fill="#fff" text-anchor="start">1.21854</text>
<rect x="1669" y="96" width="40" height="11" fill="#ff0000"/>
<text transform="translate(1673.6,105) scale(0.875,1)" font-size="10.2" fill="#fff" text-anchor="start">1.22025</text>
<rect x="1669" y="180" width="40" height="11" fill="#00ff00"/>
<text transform="translate(1673.6,189) scale(0.875,1)" font-size="10.2" fill="#fff" text-anchor="start">1.21002</text>
<rect x="1669" y="261" width="40" height="11" fill="#0000cd"/>
<text transform="translate(1673.6,270) scale(0.875,1)" font-size="10.2" fill="#fff" text-anchor="start">1.20010</text>
<rect x="1669" y="342" width="40" height="11" fill="#0000ff"/>
<text transform="translate(1673.6,351) scale(0.875,1)" font-size="10.2" fill="#fff" text-anchor="start">1.19018</text>
<rect x="1668" y="526" width="2" height="1" fill="#000"/>
<text transform="translate(1671.1,535) scale(0.875,1)" font-size="10.2" fill="#000" text-anchor="start">100</text>
<rect x="1668" y="552" width="2" height="1" fill="#000"/>
<text transform="translate(1671.1,556) scale(0.875,1)" font-size="10.2" fill="#000" text-anchor="start">70</text>
<rect x="1668" y="588" width="2" height="1" fill="#000"/>
<text transform="translate(1671.1,592) scale(0.875,1)" font-size="10.2" fill="#000" text-anchor="start">30</text>
<rect x="1668" y="614" width="1" height="1" fill="#000"/>
<text transform="translate(1671.1,612) scale(0.875,1)" font-size="10.2" fill="#000" text-anchor="start">0</text>
<rect x="1668" y="619" width="1" height="1" fill="#000"/>
<text transform="translate(1671.1,628) scale(0.875,1)" font-size="10.2" fill="#000" text-anchor="start">0.003701</text>
<rect x="1668" y="663" width="2" height="1" fill="#000"/>
<text transform="translate(1671.1,667) scale(0.875,1)" font-size="10.2" fill="#000" text-anchor="start">0.00</text>
<rect x="1668" y="705" width="1" height="1" fill="#000"/>
<text transform="translate(1671.1,704) scale(0.875,1)" font-size="10.2" fill="#000" text-anchor="start">-0.003572</text>
<rect x="3" y="708" width="1" height="3" fill="#000"/>
<text transform="translate(2.4,720) scale(0.925,1)" font-size="10.2" fill="#000" text-anchor="start">25 Mar 2021</text>
<rect x="67" y="708" width="1" height="3" fill="#000"/>
<text transform="translate(66.4,720) scale(0.925,1)" font-size="10.2" fill="#000" text-anchor="start">30 Mar 10:00</text>
<rect x="131" y="708" width="1" height="3" fill="#000"/>
<text transform="translate(130.4,720) scale(0.925,1)" font-size="10.2" fill="#000" text-anchor="start">2 Apr 00:00</text>
<rect x="195" y="708" width="1" height="3" fill="#000"/>
<text transform="translate(194.4,720) scale(0.925,1)" font-size="10.2" fill="#000" text-anchor="start">7 Apr 10:00</text>
<rect x="259" y="708" width="1" height="3" fill="#000"/>
<text transform="translate(258.4,720) scale(0.925,1)" font-size="10.2" fill="#000" text-anchor="start">10 Apr 00:00</text>
<rect x="323" y="708" width="1" height="3" fill="#000"/>
<text transform="translate(322.4,720) scale(0.925,1)" font-size="10.2" fill="#000" text-anchor="start">14 Apr 18:00</text>
<rect x="387" y="708" width="1" height="3" fill="#000"/>
<text transform="translate(386.4,720) scale(0.925,1)" font-size="10.2" fill="#000" text-anchor="start">19 Apr 11:00</text>
<rect x="451" y="708" width="1" height="3" fill="#000"/>
<text transform="translate(450.4,720) scale(0.925,1)" font-size="10.2" fill="#000" text-anchor="start">22 Apr 00:00</text>
<rect x="515" y="708" width="1" height="3" fill="#000"/>
<text transform="translate(514.4,720) scale(0.925,1)" font-size="10.2" fill="#000" text-anchor="start">26 Apr 19:00</text>
<rect x="579" y="708" width="1" height="3" fill="#000"/>
<text transform="translate(578.4,720) scale(0.925,1)" font-size="10.2" fill="#000" text-anchor="start">29 Apr 10:00</text>
<rect x="643" y="708" width="1" height="3" fill="#000"/>
<text transform="translate(642.4,720) scale(0.925,1)" font-size="10.2" fill="#000" text-anchor="start">4 May 00:00</text>
<rect x="707" y="708" width="1" height="3" fill="#000"/>
<text transform="translate(706.4,720) scale(0.925,1)" font-size="10.2" fill="#000" text-anchor="start">6 May 18:00</text>
<rect x="771" y="708" width="1" height="3" fill="#000"/>
<text transform="translate(770.4,720) scale(0.925,1)" font-size="10.2" fill="#000" text-anchor="start">11 May 10:00</text>
<rect x="835" y="708" width="1" height="3" fill="#000"/>
<text transform="translate(834.4,720) scale(0.925,1)" font-size="10.2" fill="#000" text-anchor="start">14 May 00:00</text>
<rect x="899" y="708" width="1" height="3" fill="#000"/>
<text transform="translate(898.4,720) scale(0.925,1)" font-size="10.2" fill="#000" text-anchor="start">18 May 18:00</text>
<rect x="963" y="708" width="1" height="3" fill="#000"/>
<text transform="translate(962.4,720) scale(0.925,1)" font-size="10.2" fill="#000" text-anchor="start">21 May 10:00</text>
<rect x="1027" y="708" width="1" height="3" fill="#000"/>
<text transform="translate(1026.4,720) scale(0.925,1)" font-size="10.2" fill="#000" text-anchor="start">26 May 00:00</text>
<rect x="1091" y="708" width="1" height="3" fill="#000"/>
<text transform="translate(1090.4,720) scale(0.925,1)" font-size="10.2" fill="#000" text-anchor="start">28 May 18:00</text>
<rect x="1155" y="708" width="1" height="3" fill="#000"/>
<text transform="translate(1154.4,720) scale(0.925,1)" font-size="10.2" fill="#000" text-anchor="start">2 Jun 10:00</text>
<rect x="1219" y="708" width="1" height="3" fill="#000"/>
<text transform="translate(1218.4,720) scale(0.925,1)" font-size="10.2" fill="#000" text-anchor="start">5 Jun 00:00</text>
<rect x="1283" y="708" width="1" height="3" fill="#000"/>
<text transform="translate(1282.4,720) scale(0.925,1)" font-size="10.2" fill="#000" text-anchor="start">9 Jun 18:00</text>
<rect x="0" y="728" width="1709" height="1" fill="#e3e3e3"/>
<rect x="0" y="729" width="1709" height="1" fill="#ffffff"/>
<rect x="0" y="730" width="1709" height="1" fill="#000"/>
<rect x="0" y="731" width="1709" height="1" fill="#f8f8f8"/>
<rect x="0" y="732" width="1709" height="21" fill="#f0f0f0"/>
<rect x="197" y="730" width="91" height="18" fill="#ffffff"/>
<rect x="196" y="730" width="1" height="19" fill="#000"/>
<rect x="288" y="730" width="1" height="19" fill="#000"/>
<rect x="196" y="748" width="93" height="1" fill="#000"/>
<text x="241.7" y="745" font-size="11.8" fill="#000" text-anchor="middle">EURUSD,H4</text>
<text x="47.6" y="745" font-size="11.8" fill="#707070" text-anchor="middle">USDCHF,H4</text>
<text x="143.9" y="745" font-size="11.8" fill="#707070" text-anchor="middle">USDCNH,Daily</text>
<text x="333.9" y="745" font-size="11.8" fill="#707070" text-anchor="middle">AUDUSD,H4</text>
<text x="425.4" y="745" font-size="11.8" fill="#707070" text-anchor="middle">USDCAD,H4</text>
<text x="517.6" y="745" font-size="11.8" fill="#707070" text-anchor="middle">XAUUSD,H1</text>
<text x="605.9" y="745" font-size="11.8" fill="#707070" text-anchor="middle">USOil,Daily</text>
<rect x="92" y="734" width="1" height="13" fill="#808080"/>
<rect x="380" y="734" width="1" height="13" fill="#808080"/>
<rect x="472" y="734" width="1" height="13" fill="#808080"/>
<rect x="564" y="734" width="1" height="13" fill="#808080"/>
<rect x="648" y="734" width="1" height="13" fill="#808080"/>
<rect x="0" y="750" width="1709" height="1" fill="#ffffff"/>
<rect x="1683" y="738" width="1" height="2" fill="#a0a0a0"/>
<rect x="1704" y="738" width="1" height="2" fill="#a0a0a0"/>
<rect x="1684" y="737" width="1" height="4" fill="#a0a0a0"/>
<rect x="1703" y="737" width="1" height="4" fill="#a0a0a0"/>
<rect x="1685" y="736" width="1" height="6" fill="#a0a0a0"/>
<rect x="1702" y="736" width="1" height="6" fill="#a0a0a0"/>
<defs><pattern id="chk" width="2" height="2" patternUnits="userSpaceOnUse"><rect width="2" height="2" fill="#f0f0f0"/><rect width="1" height="1" fill="#fff"/><rect x="1" y="1" width="1" height="1" fill="#fff"/></pattern></defs>
<rect x="266" y="0" width="24" height="20" fill="url(#chk)"/>
<rect x="265" y="0" width="1" height="20" fill="#a0a0a0"/>
<rect x="290" y="0" width="1" height="21" fill="#ffffff"/>
<rect x="265" y="20" width="26" height="1" fill="#ffffff"/>
<text transform="translate(137.3,14) scale(0.93,1)" font-size="10.2" fill="#404040" text-anchor="middle" stroke="#404040" stroke-width="0.1">M1</text>
<text transform="translate(165.3,14) scale(0.93,1)" font-size="10.2" fill="#404040" text-anchor="middle" stroke="#404040" stroke-width="0.1">M5</text>
<text transform="translate(193.3,14) scale(0.93,1)" font-size="10.2" fill="#404040" text-anchor="middle" stroke="#404040" stroke-width="0.1">M15</text>
<text transform="translate(221.8,14) scale(0.93,1)" font-size="10.2" fill="#404040" text-anchor="middle" stroke="#404040" stroke-width="0.1">M30</text>
<text transform="translate(249.3,14) scale(0.93,1)" font-size="10.2" fill="#404040" text-anchor="middle" stroke="#404040" stroke-width="0.1">H1</text>
<text transform="translate(276.8,14) scale(0.93,1)" font-size="10.2" fill="#404040" text-anchor="middle" stroke="#404040" stroke-width="0.1">H4</text>
<text transform="translate(305.3,14) scale(0.93,1)" font-size="10.2" fill="#404040" text-anchor="middle" stroke="#404040" stroke-width="0.1">D1</text>
<text transform="translate(334.3,14) scale(0.93,1)" font-size="10.2" fill="#404040" text-anchor="middle" stroke="#404040" stroke-width="0.1">W1</text>
<text transform="translate(361.3,14) scale(0.93,1)" font-size="10.2" fill="#404040" text-anchor="middle" stroke="#404040" stroke-width="0.1">MN</text>
<rect x="115" y="0" width="1" height="22" fill="#a0a0a0"/>
<rect x="116" y="0" width="1" height="22" fill="#fff"/>
<rect x="119" y="0" width="3" height="1" fill="#b4b4b4"/>
<rect x="119" y="2" width="3" height="1" fill="#b4b4b4"/>
<rect x="119" y="4" width="3" height="1" fill="#b4b4b4"/>
<rect x="119" y="6" width="3" height="1" fill="#b4b4b4"/>
<rect x="119" y="8" width="3" height="1" fill="#b4b4b4"/>
<rect x="119" y="10" width="3" height="1" fill="#b4b4b4"/>
<rect x="119" y="12" width="3" height="1" fill="#b4b4b4"/>
<rect x="119" y="14" width="3" height="1" fill="#b4b4b4"/>
<rect x="119" y="16" width="3" height="1" fill="#b4b4b4"/>
<rect x="119" y="18" width="3" height="1" fill="#b4b4b4"/>
<rect x="376" y="0" width="1" height="22" fill="#a0a0a0"/>
<rect x="377" y="0" width="1" height="22" fill="#fff"/>
<rect x="1" y="3" width="1" height="1" fill="#505050"/>
<rect x="3" y="3" width="1" height="1" fill="#505050"/>
<rect x="5" y="3" width="1" height="1" fill="#505050"/>
<rect x="7" y="3" width="1" height="1" fill="#505050"/>
<rect x="9" y="3" width="1" height="1" fill="#505050"/>
<rect x="11" y="3" width="1" height="1" fill="#505050"/>
<rect x="1" y="6" width="1" height="1" fill="#505050"/>
<rect x="3" y="6" width="1" height="1" fill="#505050"/>
<rect x="5" y="6" width="1" height="1" fill="#505050"/>
<rect x="7" y="6" width="1" height="1" fill="#505050"/>
<rect x="9" y="6" width="1" height="1" fill="#505050"/>
<rect x="11" y="6" width="1" height="1" fill="#505050"/>
<rect x="1" y="10" width="1" height="1" fill="#505050"/>
<rect x="3" y="10" width="1" height="1" fill="#505050"/>
<rect x="5" y="10" width="1" height="1" fill="#505050"/>
<rect x="7" y="10" width="1" height="1" fill="#505050"/>
<rect x="9" y="10" width="1" height="1" fill="#505050"/>
<rect x="11" y="10" width="1" height="1" fill="#505050"/>
<rect x="1" y="14" width="1" height="1" fill="#505050"/>
<rect x="3" y="14" width="1" height="1" fill="#505050"/>
<rect x="5" y="14" width="1" height="1" fill="#505050"/>
<rect x="7" y="14" width="1" height="1" fill="#505050"/>
<text x="8.8" y="19" font-size="7" fill="#404040" text-anchor="start" font-weight="bold">F</text>
<text x="33.7" y="15" font-size="12.4" fill="#484848" text-anchor="middle" stroke="#484848" stroke-width="0.15" textLength="7.4" lengthAdjust="spacingAndGlyphs">A</text>
<rect x="56" y="4" width="1" height="1" fill="#505050"/>
<rect x="56" y="16" width="1" height="1" fill="#505050"/>
<rect x="58" y="4" width="1" height="1" fill="#505050"/>
<rect x="58" y="16" width="1" height="1" fill="#505050"/>
<rect x="60" y="4" width="1" height="1" fill="#505050"/>
<rect x="60" y="16" width="1" height="1" fill="#505050"/>
<rect x="62" y="4" width="1" height="1" fill="#505050"/>
<rect x="62" y="16" width="1" height="1" fill="#505050"/>
<rect x="64" y="4" width="1" height="1" fill="#505050"/>
<rect x="64" y="16" width="1" height="1" fill="#505050"/>
<rect x="66" y="4" width="1" height="1" fill="#505050"/>
<rect x="66" y="16" width="1" height="1" fill="#505050"/>
<rect x="67" y="4" width="1" height="1" fill="#505050"/>
<rect x="67" y="16" width="1" height="1" fill="#505050"/>
<rect x="56" y="4" width="1" height="1" fill="#505050"/>
<rect x="67" y="4" width="1" height="1" fill="#505050"/>
<rect x="56" y="6" width="1" height="1" fill="#505050"/>
<rect x="67" y="6" width="1" height="1" fill="#505050"/>
<rect x="56" y="8" width="1" height="1" fill="#505050"/>
<rect x="67" y="8" width="1" height="1" fill="#505050"/>
<rect x="56" y="10" width="1" height="1" fill="#505050"/>
<rect x="67" y="10" width="1" height="1" fill="#505050"/>
<rect x="56" y="12" width="1" height="1" fill="#505050"/>
<rect x="67" y="12" width="1" height="1" fill="#505050"/>
<rect x="56" y="14" width="1" height="1" fill="#505050"/>
<rect x="67" y="14" width="1" height="1" fill="#505050"/>
<rect x="56" y="16" width="1" height="1" fill="#505050"/>
<rect x="67" y="16" width="1" height="1" fill="#505050"/>
<rect x="55" y="3" width="2" height="1" fill="#505050"/>
<text x="61.9" y="14.6" font-size="10.6" fill="#505050" text-anchor="middle" stroke="#505050" stroke-width="0.2">T</text>
<g shape-rendering="auto" fill="#505050"><polygon points="86.5,3.6 90.2,7.6 88.6,9.2 84.4,9.2 82.8,7.6"/><polygon points="93.5,17.2 89.8,13.4 91.2,11.9 95.8,11.9 97.2,13.4"/><polyline points="85.2,11.6 87.6,13.6 91.9,8.4" fill="none" stroke="#505050" stroke-width="1.3"/></g>
<polygon points="103.5,9 109.5,9 106.5,12" fill="#000"/>
</svg>
</body></html>
